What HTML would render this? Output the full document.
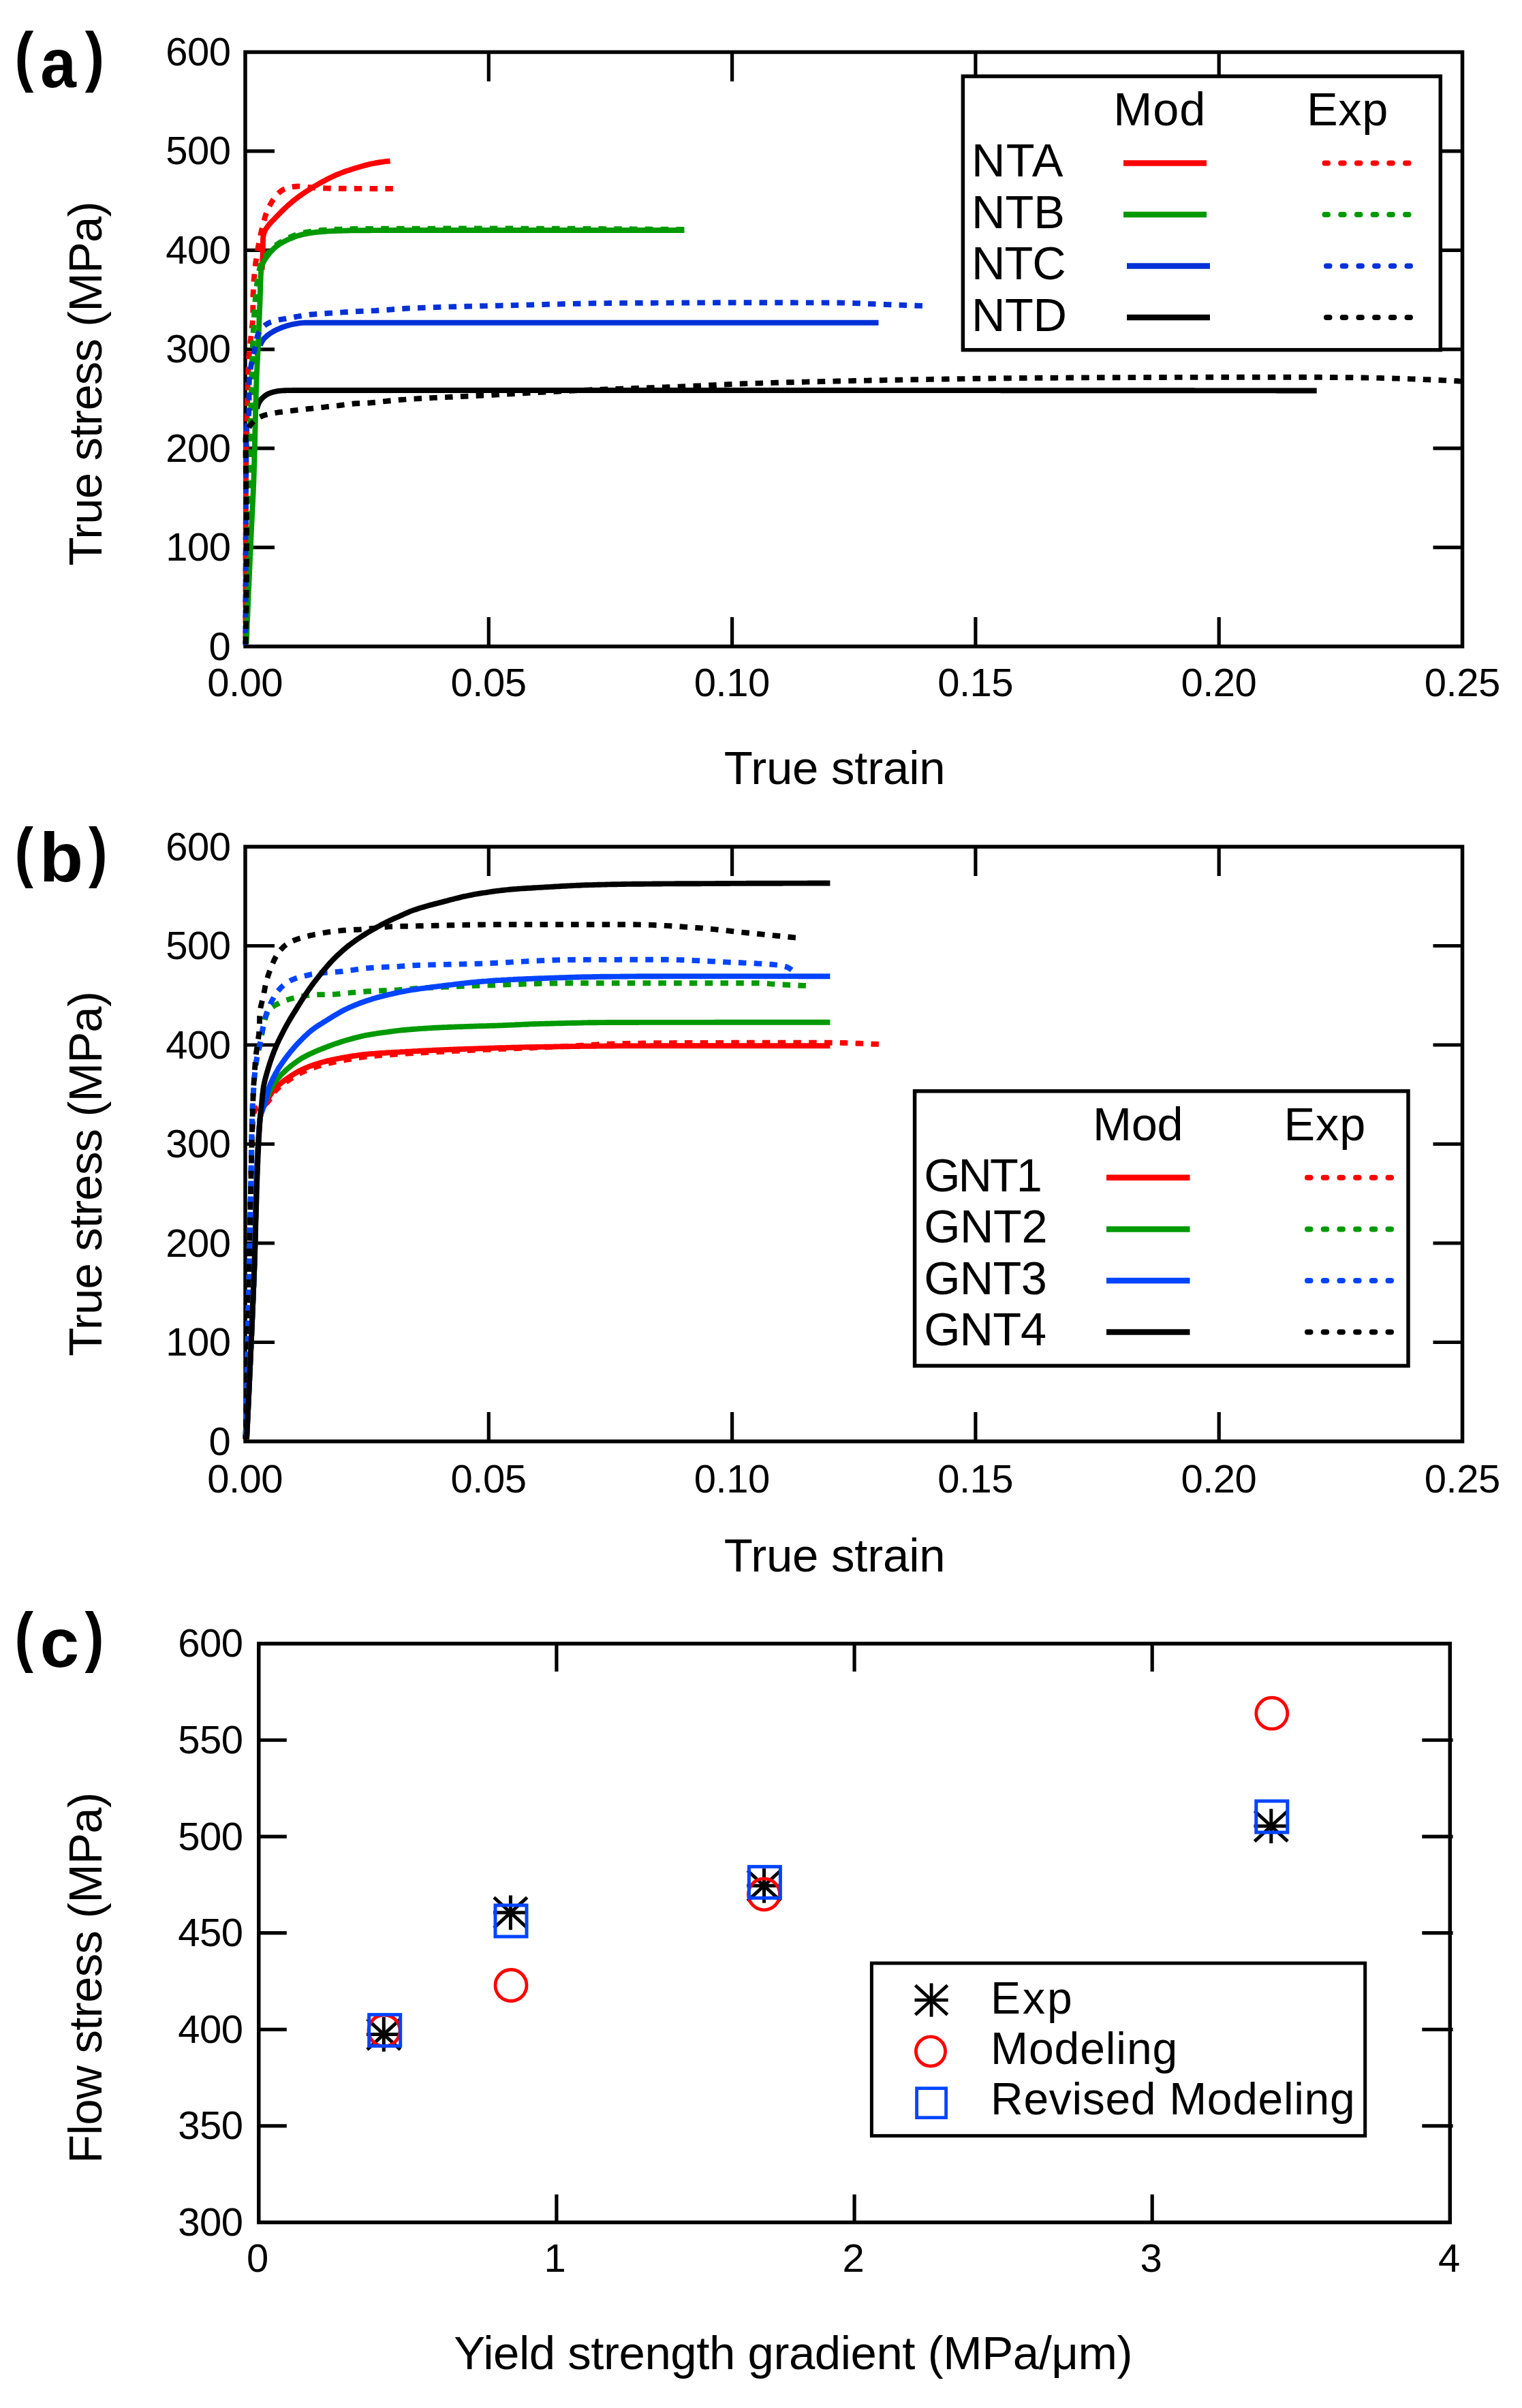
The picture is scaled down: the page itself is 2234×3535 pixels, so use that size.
<!DOCTYPE html><html><head><meta charset="utf-8"><title>Figure</title>
<style>html,body{margin:0;padding:0;background:#fff}svg{display:block}text{font-family:"Liberation Sans", Arial, Helvetica, sans-serif;fill:#000}</style></head><body>
<svg width="2234" height="3535" viewBox="0 0 2234 3535">
<rect width="2234" height="3535" fill="#fff"/>
<g id="pa">
<line x1="717.3" y1="949.0" x2="717.3" y2="906.0" stroke="#000" stroke-width="5.2" stroke-linecap="butt"/>
<line x1="717.3" y1="76.5" x2="717.3" y2="119.5" stroke="#000" stroke-width="5.2" stroke-linecap="butt"/>
<line x1="1074.6" y1="949.0" x2="1074.6" y2="906.0" stroke="#000" stroke-width="5.2" stroke-linecap="butt"/>
<line x1="1074.6" y1="76.5" x2="1074.6" y2="119.5" stroke="#000" stroke-width="5.2" stroke-linecap="butt"/>
<line x1="1431.9" y1="949.0" x2="1431.9" y2="906.0" stroke="#000" stroke-width="5.2" stroke-linecap="butt"/>
<line x1="1431.9" y1="76.5" x2="1431.9" y2="119.5" stroke="#000" stroke-width="5.2" stroke-linecap="butt"/>
<line x1="1789.2" y1="949.0" x2="1789.2" y2="906.0" stroke="#000" stroke-width="5.2" stroke-linecap="butt"/>
<line x1="1789.2" y1="76.5" x2="1789.2" y2="119.5" stroke="#000" stroke-width="5.2" stroke-linecap="butt"/>
<line x1="360.0" y1="803.6" x2="403.0" y2="803.6" stroke="#000" stroke-width="5.2" stroke-linecap="butt"/>
<line x1="2146.5" y1="803.6" x2="2103.5" y2="803.6" stroke="#000" stroke-width="5.2" stroke-linecap="butt"/>
<line x1="360.0" y1="658.2" x2="403.0" y2="658.2" stroke="#000" stroke-width="5.2" stroke-linecap="butt"/>
<line x1="2146.5" y1="658.2" x2="2103.5" y2="658.2" stroke="#000" stroke-width="5.2" stroke-linecap="butt"/>
<line x1="360.0" y1="512.8" x2="403.0" y2="512.8" stroke="#000" stroke-width="5.2" stroke-linecap="butt"/>
<line x1="2146.5" y1="512.8" x2="2103.5" y2="512.8" stroke="#000" stroke-width="5.2" stroke-linecap="butt"/>
<line x1="360.0" y1="367.3" x2="403.0" y2="367.3" stroke="#000" stroke-width="5.2" stroke-linecap="butt"/>
<line x1="2146.5" y1="367.3" x2="2103.5" y2="367.3" stroke="#000" stroke-width="5.2" stroke-linecap="butt"/>
<line x1="360.0" y1="221.9" x2="403.0" y2="221.9" stroke="#000" stroke-width="5.2" stroke-linecap="butt"/>
<line x1="2146.5" y1="221.9" x2="2103.5" y2="221.9" stroke="#000" stroke-width="5.2" stroke-linecap="butt"/>
<rect x="360.0" y="76.5" width="1786.5" height="872.5" fill="none" stroke="#000" stroke-width="5.5"/>
<text x="304.2" y="1021.5" font-size="58" letter-spacing="-0.50">0.00</text>
<text x="661.6" y="1021.5" font-size="58" letter-spacing="-0.50">0.05</text>
<text x="1018.8" y="1021.5" font-size="58" letter-spacing="-0.50">0.10</text>
<text x="1376.2" y="1021.5" font-size="58" letter-spacing="-0.50">0.15</text>
<text x="1733.4" y="1021.5" font-size="58" letter-spacing="-0.50">0.20</text>
<text x="2090.8" y="1021.5" font-size="58" letter-spacing="-0.50">0.25</text>
<text x="306.6" y="968.5" font-size="58" letter-spacing="-0.50">0</text>
<text x="243.3" y="823.1" font-size="58" letter-spacing="-0.50">100</text>
<text x="243.3" y="677.7" font-size="58" letter-spacing="-0.50">200</text>
<text x="243.3" y="532.2" font-size="58" letter-spacing="-0.50">300</text>
<text x="243.3" y="386.8" font-size="58" letter-spacing="-0.50">400</text>
<text x="243.3" y="241.4" font-size="58" letter-spacing="-0.50">500</text>
<text x="243.3" y="96.0" font-size="58" letter-spacing="-0.50">600</text>
<path d="M384.6 396.0 L384.8 393.0 L385.0 389.9 L385.1 386.9 L385.3 383.9 L385.4 380.8 L385.5 377.8 L385.6 374.7 L385.7 371.7 L385.7 368.6 L385.8 365.5 L385.8 362.4 L385.9 359.4 L385.9 356.3 L386.0 353.3 L386.1 350.3 L386.4 347.4 L386.8 344.5 L387.6 341.7 L388.7 339.0 L390.1 336.4 L391.8 333.8 L393.6 331.4 L395.5 329.1 L397.5 326.8 L399.6 324.6 L401.7 322.4 L403.8 320.2 L405.9 318.0 L408.1 315.8 L410.2 313.6 L412.3 311.5 L414.4 309.3 L416.6 307.2 L418.8 305.1 L421.0 303.1 L423.3 301.0 L425.6 299.0 L427.9 297.1 L430.2 295.1 L432.6 293.2 L435.0 291.4 L437.4 289.5 L439.8 287.8 L442.3 286.0 L444.8 284.3 L447.3 282.6 L449.8 280.9 L452.4 279.3 L455.0 277.6 L457.5 276.0 L460.1 274.4 L462.7 272.9 L465.3 271.3 L467.9 269.8 L470.6 268.3 L473.2 266.8 L475.9 265.4 L478.6 264.0 L481.3 262.6 L484.0 261.3 L486.7 259.9 L489.5 258.7 L492.3 257.4 L495.0 256.2 L497.8 255.1 L500.7 253.9 L503.5 252.9 L506.3 251.8 L509.2 250.8 L512.1 249.9 L515.0 248.9 L517.9 248.0 L520.8 247.1 L523.7 246.2 L526.6 245.4 L529.5 244.5 L532.4 243.7 L535.3 242.9 L538.3 242.1 L541.2 241.4 L544.1 240.7 L547.1 240.1 L550.1 239.5 L553.1 239.0 L556.0 238.5 L559.0 238.0 L562.0 237.6 L565.0 237.2 L568.1 236.8 L571.1 236.5 L572.6 236.3" fill="none" stroke="#ff0000" stroke-width="7.9" stroke-linejoin="round"/>
<path d="M360.5 946.0 L360.5 943.0 L360.5 940.0 L360.5 937.0 L360.5 934.0 L360.5 931.0 L360.5 928.0 L360.5 924.9 L360.5 921.9 L360.5 918.9 L360.5 915.9 L360.5 912.9 L360.5 909.9 L360.5 906.9 L360.5 903.9 L360.5 900.9 L360.5 897.9 L360.5 894.9 L360.5 891.9 L360.5 888.9 L360.5 885.8 L360.5 882.8 L360.5 879.8 L360.5 876.8 L360.5 873.8 L360.5 870.8 L360.5 867.8 L360.6 864.8 L360.6 861.8 L360.6 858.8 L360.6 855.8 L360.6 852.8 L360.6 849.8 L360.6 846.7 L360.6 843.7 L360.6 840.7 L360.6 837.7 L360.6 834.7 L360.6 831.7 L360.6 828.7 L360.6 825.7 L360.6 822.7 L360.6 819.7 L360.6 816.7 L360.6 813.7 L360.6 810.7 L360.7 807.6 L360.7 804.6 L360.7 801.6 L360.7 798.6 L360.7 795.6 L360.7 792.6 L360.7 789.6 L360.7 786.6 L360.7 783.6 L360.7 780.6 L360.7 777.6 L360.7 774.6 L360.7 771.6 L360.8 768.6 L360.8 765.5 L360.8 762.5 L360.8 759.5 L360.8 756.5 L360.8 753.5 L360.8 750.5 L360.8 747.5 L360.8 744.5 L360.8 741.5 L360.8 738.5 L360.9 735.5 L360.9 732.5 L360.9 729.5 L360.9 726.4 L360.9 723.4 L360.9 720.4 L360.9 717.4 L360.9 714.4 L361.0 711.4 L361.0 708.4 L361.0 705.4 L361.0 702.4 L361.0 699.4 L361.0 696.4 L361.1 693.4 L361.1 690.4 L361.1 687.4 L361.2 684.3 L361.2 681.3 L361.2 678.3 L361.3 675.3 L361.3 672.3 L361.4 669.3 L361.5 666.3 L361.5 663.3 L361.6 660.3 L361.6 657.3 L361.7 654.3 L361.8 651.3 L361.8 648.3 L361.9 645.3 L362.0 642.2 L362.0 639.2 L362.1 636.2 L362.1 633.2 L362.2 630.2 L362.3 627.2 L362.3 624.2 L362.4 621.2 L362.4 618.2 L362.5 615.2 L362.6 612.2 L362.6 609.2 L362.7 606.2 L362.7 603.1 L362.8 600.1 L362.9 597.1 L362.9 594.1 L363.0 591.1 L363.1 588.1 L363.1 585.1 L363.2 582.1 L363.3 579.1 L363.4 576.1 L363.5 573.1 L363.5 570.1 L363.6 567.0 L363.7 564.0 L363.8 561.0 L363.9 558.0 L364.0 555.0 L364.1 552.0 L364.2 549.0 L364.3 546.0 L364.4 543.0 L364.6 540.0 L364.7 537.0 L364.8 534.0 L365.0 531.0 L365.1 528.0 L365.3 525.0 L365.5 522.0 L365.8 519.0 L366.1 516.0 L366.4 513.0 L366.7 510.0 L367.0 507.0 L367.3 504.1 L367.6 501.1 L368.0 498.1 L368.3 495.1 L368.6 492.1 L368.9 489.1 L369.2 486.1 L369.6 483.1 L369.9 480.1 L370.3 477.1 L370.6 474.1 L370.8 471.1 L371.0 468.1 L371.2 465.1 L371.3 462.1 L371.3 459.1 L371.3 456.1 L371.3 453.1 L371.3 450.1 L371.3 447.1 L371.3 444.1 L371.3 441.1 L371.4 438.1 L371.5 435.1 L371.5 432.1 L371.7 429.1 L371.8 426.1 L371.9 423.0 L372.1 420.0 L372.2 417.0 L372.4 414.0 L372.7 411.0 L372.9 408.0 L373.2 405.0 L373.4 402.1 L373.7 399.1 L374.0 396.1 L374.4 393.1 L374.7 390.1 L375.1 387.1 L375.5 384.1 L376.0 381.2 L376.4 378.2 L376.9 375.2 L377.3 372.2 L377.8 369.3 L378.3 366.3 L378.8 363.3 L379.4 360.4 L379.9 357.4 L380.5 354.5 L381.1 351.5 L381.7 348.6 L382.3 345.6 L383.0 342.7 L383.6 339.7 L384.3 336.8 L385.0 333.9 L385.7 330.9 L386.4 328.0 L387.2 325.1 L388.0 322.2 L388.8 319.3 L389.7 316.5 L390.7 313.6 L391.8 310.8 L392.9 308.0 L394.1 305.2 L395.4 302.5 L396.9 299.8 L398.4 297.2 L399.9 294.7 L401.7 292.2 L403.5 289.7 L405.4 287.3 L407.5 284.9 L409.6 282.8 L411.9 280.9 L414.3 279.3 L416.8 277.9 L419.5 276.8 L422.3 275.9 L425.2 275.1 L428.2 274.5 L431.2 274.0 L434.2 273.7 L437.2 273.5 L440.2 273.6 L443.2 273.8 L446.2 274.0 L449.2 274.3 L452.2 274.7 L455.2 275.0 L458.2 275.3 L461.2 275.5 L464.2 275.7 L467.2 275.9 L470.2 276.1 L473.2 276.2 L476.3 276.3 L479.3 276.4 L482.3 276.5 L485.3 276.5 L488.3 276.6 L491.3 276.6 L494.3 276.6 L497.3 276.7 L500.3 276.7 L503.3 276.7 L506.3 276.7 L509.3 276.8 L512.3 276.8 L515.3 276.8 L518.3 276.8 L521.3 276.8 L524.4 276.9 L527.4 276.9 L530.4 276.9 L533.4 276.9 L536.4 276.9 L539.4 276.9 L542.4 276.9 L545.4 277.0 L548.4 277.0 L551.4 277.0 L554.4 277.0 L557.4 277.0 L560.4 277.0 L563.5 277.0 L566.5 277.0 L569.5 277.0 L572.5 277.0 L575.5 277.0 L577.0 277.0" fill="none" stroke="#ff0000" stroke-width="7.9" stroke-linejoin="round" stroke-dasharray="11.5 11.3" stroke-dashoffset="14.4"/>
<path d="M377.0 600.0 L377.8 597.1 L378.8 594.3 L379.9 591.5 L381.4 588.9 L383.1 586.5 L385.1 584.3 L387.3 582.3 L389.7 580.5 L392.2 578.9 L394.9 577.6 L397.7 576.5 L400.5 575.7 L403.4 575.0 L406.4 574.4 L409.3 573.9 L412.4 573.6 L415.4 573.4 L418.4 573.2 L421.4 573.1 L424.4 573.1 L427.4 573.1 L430.4 573.0 L433.4 573.0 L436.4 573.0 L439.4 573.0 L442.4 573.0 L445.4 573.0 L448.4 573.0 L451.4 573.0 L454.4 573.0 L457.4 573.0 L460.4 573.0 L463.4 573.0 L466.4 573.0 L469.5 573.0 L472.5 573.0 L475.5 573.0 L478.5 573.0 L481.5 573.0 L484.5 573.0 L487.5 573.0 L490.5 573.0 L493.5 573.0 L496.5 573.0 L499.5 573.0 L502.5 573.0 L505.5 573.0 L508.5 573.0 L511.5 573.0 L514.5 573.0 L517.5 573.0 L520.5 573.0 L523.5 573.0 L526.5 573.0 L529.5 573.0 L532.5 573.0 L535.6 573.0 L538.6 573.0 L541.6 573.0 L544.6 573.0 L547.6 573.0 L550.6 573.0 L553.6 573.0 L556.6 573.0 L559.6 573.0 L562.6 573.0 L565.6 573.0 L568.6 573.0 L571.6 573.0 L574.6 573.0 L577.6 573.0 L580.6 573.0 L583.6 573.0 L586.6 573.0 L589.6 573.0 L592.6 573.0 L595.6 573.0 L598.7 573.0 L601.7 573.0 L604.7 573.0 L607.7 573.0 L610.7 573.0 L613.7 573.0 L616.7 573.0 L619.7 573.0 L622.7 573.0 L625.7 573.0 L628.7 573.0 L631.7 573.0 L634.7 573.0 L637.7 573.0 L640.7 573.0 L643.7 573.0 L646.7 573.0 L649.7 573.0 L652.7 573.0 L655.7 573.0 L658.7 573.0 L661.7 573.0 L664.8 573.0 L667.8 573.0 L670.8 573.0 L673.8 573.0 L676.8 573.0 L679.8 573.0 L682.8 573.0 L685.8 573.0 L688.8 573.0 L691.8 573.0 L694.8 573.0 L697.8 573.0 L700.8 573.0 L703.8 573.0 L706.8 573.0 L709.8 573.0 L712.8 573.0 L715.8 573.0 L718.8 573.0 L721.8 573.0 L724.8 573.0 L727.8 573.0 L730.9 573.0 L733.9 573.0 L736.9 573.0 L739.9 573.0 L742.9 573.0 L745.9 573.0 L748.9 573.0 L751.9 573.0 L754.9 573.0 L757.9 573.0 L760.9 573.0 L763.9 573.0 L766.9 573.0 L769.9 573.0 L772.9 573.0 L775.9 573.0 L778.9 573.0 L781.9 573.0 L784.9 573.0 L787.9 573.0 L790.9 573.0 L794.0 573.0 L797.0 573.0 L800.0 573.0 L803.0 573.0 L806.0 573.0 L809.0 573.0 L812.0 573.0 L815.0 573.0 L818.0 573.0 L821.0 573.0 L824.0 573.0 L827.0 573.0 L830.0 573.0 L833.0 573.0 L836.0 573.0 L839.0 573.0 L842.0 573.0 L845.0 573.0 L848.0 573.0 L851.0 573.0 L854.0 573.0 L857.0 573.0 L860.1 573.0 L863.1 573.0 L866.1 573.0 L869.1 573.0 L872.1 573.0 L875.1 573.0 L878.1 573.0 L881.1 573.0 L884.1 573.0 L887.1 573.0 L890.1 573.0 L893.1 573.0 L896.1 573.0 L899.1 573.0 L902.1 573.0 L905.1 573.0 L908.1 573.0 L911.1 573.0 L914.1 573.0 L917.1 573.0 L920.1 573.0 L923.2 573.0 L926.2 573.0 L929.2 573.0 L932.2 573.0 L935.2 573.0 L938.2 573.0 L941.2 573.0 L944.2 573.0 L947.2 573.0 L950.2 573.0 L953.2 573.0 L956.2 573.0 L959.2 573.0 L962.2 573.0 L965.2 573.0 L968.2 573.0 L971.2 573.0 L974.2 573.0 L977.2 573.0 L980.2 573.0 L983.2 573.0 L986.2 573.0 L989.3 573.0 L992.3 573.0 L995.3 573.0 L998.3 573.0 L1001.3 573.0 L1004.3 573.0 L1007.3 573.0 L1010.3 573.0 L1013.3 573.0 L1016.3 573.0 L1019.3 573.0 L1022.3 573.0 L1025.3 573.0 L1028.3 573.0 L1031.3 573.0 L1034.3 573.0 L1037.3 573.0 L1040.3 573.0 L1043.3 573.0 L1046.3 573.0 L1049.3 573.0 L1052.3 573.0 L1055.4 573.0 L1058.4 573.0 L1061.4 573.0 L1064.4 573.0 L1067.4 573.0 L1070.4 573.0 L1073.4 573.0 L1076.4 573.0 L1079.4 573.0 L1082.4 573.0 L1085.4 573.0 L1088.4 573.0 L1091.4 573.0 L1094.4 573.0 L1097.4 573.0 L1100.4 573.0 L1103.4 573.0 L1106.4 573.0 L1109.4 573.0 L1112.4 573.0 L1115.4 573.0 L1118.5 573.0 L1121.5 573.0 L1124.5 573.0 L1127.5 573.0 L1130.5 573.0 L1133.5 573.0 L1136.5 573.0 L1139.5 573.0 L1142.5 573.0 L1145.5 573.0 L1148.5 573.0 L1151.5 573.0 L1154.5 573.0 L1157.5 573.0 L1160.5 573.0 L1163.5 573.0 L1166.5 573.0 L1169.5 573.0 L1172.5 573.0 L1175.5 573.0 L1178.5 573.0 L1181.5 573.0 L1184.6 573.0 L1187.6 573.0 L1190.6 573.0 L1193.6 573.0 L1196.6 573.0 L1199.6 573.0 L1202.6 573.0 L1205.6 573.0 L1208.6 573.0 L1211.6 573.0 L1214.6 573.0 L1217.6 573.0 L1220.6 573.0 L1223.6 573.0 L1226.6 573.0 L1229.6 573.0 L1232.6 573.0 L1235.6 573.0 L1238.6 573.0 L1241.6 573.0 L1244.6 573.0 L1247.6 573.0 L1250.7 573.0 L1253.7 573.0 L1256.7 573.0 L1259.7 573.0 L1262.7 573.1 L1265.7 573.1 L1268.7 573.1 L1271.7 573.1 L1274.7 573.1 L1277.7 573.1 L1280.7 573.1 L1283.7 573.1 L1286.7 573.1 L1289.7 573.1 L1292.7 573.1 L1295.7 573.1 L1298.7 573.1 L1301.7 573.1 L1304.7 573.1 L1307.7 573.1 L1310.7 573.1 L1313.8 573.1 L1316.8 573.1 L1319.8 573.1 L1322.8 573.1 L1325.8 573.1 L1328.8 573.1 L1331.8 573.1 L1334.8 573.1 L1337.8 573.1 L1340.8 573.1 L1343.8 573.1 L1346.8 573.1 L1349.8 573.1 L1352.8 573.1 L1355.8 573.1 L1358.8 573.1 L1361.8 573.1 L1364.8 573.1 L1367.8 573.1 L1370.8 573.1 L1373.8 573.1 L1376.8 573.1 L1379.9 573.1 L1382.9 573.1 L1385.9 573.1 L1388.9 573.1 L1391.9 573.1 L1394.9 573.1 L1397.9 573.1 L1400.9 573.1 L1403.9 573.1 L1406.9 573.1 L1409.9 573.1 L1412.9 573.1 L1415.9 573.1 L1418.9 573.1 L1421.9 573.1 L1424.9 573.1 L1427.9 573.1 L1430.9 573.1 L1433.9 573.1 L1436.9 573.1 L1439.9 573.1 L1442.9 573.1 L1446.0 573.1 L1449.0 573.1 L1452.0 573.1 L1455.0 573.1 L1458.0 573.1 L1461.0 573.1 L1464.0 573.1 L1467.0 573.1 L1470.0 573.2 L1473.0 573.2 L1476.0 573.2 L1479.0 573.2 L1482.0 573.2 L1485.0 573.2 L1488.0 573.2 L1491.0 573.2 L1494.0 573.2 L1497.0 573.2 L1500.0 573.2 L1503.0 573.2 L1506.0 573.2 L1509.0 573.2 L1512.1 573.2 L1515.1 573.2 L1518.1 573.2 L1521.1 573.2 L1524.1 573.2 L1527.1 573.2 L1530.1 573.2 L1533.1 573.2 L1536.1 573.2 L1539.1 573.2 L1542.1 573.2 L1545.1 573.2 L1548.1 573.2 L1551.1 573.2 L1554.1 573.2 L1557.1 573.2 L1560.1 573.2 L1563.1 573.2 L1566.1 573.2 L1569.1 573.2 L1572.1 573.2 L1575.2 573.2 L1578.2 573.2 L1581.2 573.2 L1584.2 573.2 L1587.2 573.2 L1590.2 573.2 L1593.2 573.2 L1596.2 573.2 L1599.2 573.2 L1602.2 573.2 L1605.2 573.2 L1608.2 573.2 L1611.2 573.2 L1614.2 573.2 L1617.2 573.2 L1620.2 573.2 L1623.2 573.3 L1626.2 573.3 L1629.2 573.3 L1632.2 573.3 L1635.2 573.3 L1638.2 573.3 L1641.3 573.3 L1644.3 573.3 L1647.3 573.3 L1650.3 573.3 L1653.3 573.3 L1656.3 573.3 L1659.3 573.3 L1662.3 573.3 L1665.3 573.3 L1668.3 573.3 L1671.3 573.3 L1674.3 573.3 L1677.3 573.3 L1680.3 573.3 L1683.3 573.3 L1686.3 573.3 L1689.3 573.3 L1692.3 573.3 L1695.3 573.3 L1698.3 573.3 L1701.3 573.3 L1704.3 573.3 L1707.4 573.3 L1710.4 573.3 L1713.4 573.3 L1716.4 573.3 L1719.4 573.3 L1722.4 573.3 L1725.4 573.3 L1728.4 573.3 L1731.4 573.3 L1734.4 573.3 L1737.4 573.3 L1740.4 573.3 L1743.4 573.3 L1746.4 573.3 L1749.4 573.3 L1752.4 573.3 L1755.4 573.4 L1758.4 573.4 L1761.4 573.4 L1764.4 573.4 L1767.4 573.4 L1770.5 573.4 L1773.5 573.4 L1776.5 573.4 L1779.5 573.4 L1782.5 573.4 L1785.5 573.4 L1788.5 573.4 L1791.5 573.4 L1794.5 573.4 L1797.5 573.4 L1800.5 573.4 L1803.5 573.4 L1806.5 573.4 L1809.5 573.4 L1812.5 573.4 L1815.5 573.4 L1818.5 573.4 L1821.5 573.4 L1824.5 573.4 L1827.5 573.4 L1830.5 573.4 L1833.5 573.4 L1836.6 573.4 L1839.6 573.4 L1842.6 573.4 L1845.6 573.4 L1848.6 573.4 L1851.6 573.4 L1854.6 573.4 L1857.6 573.4 L1860.6 573.4 L1863.6 573.4 L1866.6 573.4 L1869.6 573.4 L1872.6 573.4 L1875.6 573.5 L1878.6 573.5 L1881.6 573.5 L1884.6 573.5 L1887.6 573.5 L1890.6 573.5 L1893.6 573.5 L1896.6 573.5 L1899.6 573.5 L1902.7 573.5 L1905.7 573.5 L1908.7 573.5 L1911.7 573.5 L1914.7 573.5 L1917.7 573.5 L1920.7 573.5 L1923.7 573.5 L1926.7 573.5 L1929.7 573.5 L1932.7 573.5" fill="none" stroke="#000000" stroke-width="7.9" stroke-linejoin="round"/>
<path d="M382.0 507.0 L383.1 504.3 L384.4 501.6 L386.0 499.1 L387.8 496.8 L389.9 494.7 L392.2 492.7 L394.7 490.8 L397.1 489.1 L399.7 487.5 L402.3 486.0 L405.0 484.6 L407.7 483.3 L410.5 482.1 L413.3 481.0 L416.1 479.9 L419.0 479.0 L421.8 478.1 L424.7 477.3 L427.7 476.5 L430.6 475.9 L433.6 475.3 L436.5 474.8 L439.5 474.4 L442.5 474.1 L445.5 473.9 L448.5 473.8 L451.5 473.8 L454.5 473.8 L457.5 473.8 L460.5 473.8 L463.5 473.8 L466.5 473.8 L469.5 473.8 L472.6 473.8 L475.6 473.8 L478.6 473.8 L481.6 473.8 L484.6 473.8 L487.6 473.8 L490.6 473.8 L493.6 473.8 L496.6 473.8 L499.6 473.8 L502.7 473.8 L505.7 473.8 L508.7 473.8 L511.7 473.8 L514.7 473.8 L517.7 473.8 L520.7 473.8 L523.7 473.8 L526.7 473.8 L529.7 473.8 L532.7 473.8 L535.8 473.8 L538.8 473.8 L541.8 473.8 L544.8 473.8 L547.8 473.8 L550.8 473.8 L553.8 473.8 L556.8 473.8 L559.8 473.8 L562.8 473.8 L565.8 473.8 L568.9 473.8 L571.9 473.8 L574.9 473.8 L577.9 473.8 L580.9 473.8 L583.9 473.8 L586.9 473.8 L589.9 473.8 L592.9 473.8 L595.9 473.8 L598.9 473.8 L601.9 473.8 L605.0 473.8 L608.0 473.8 L611.0 473.8 L614.0 473.8 L617.0 473.8 L620.0 473.8 L623.0 473.8 L626.0 473.8 L629.0 473.8 L632.0 473.8 L635.0 473.8 L638.1 473.8 L641.1 473.8 L644.1 473.8 L647.1 473.8 L650.1 473.8 L653.1 473.8 L656.1 473.8 L659.1 473.8 L662.1 473.8 L665.1 473.8 L668.1 473.8 L671.2 473.8 L674.2 473.8 L677.2 473.8 L680.2 473.8 L683.2 473.8 L686.2 473.8 L689.2 473.8 L692.2 473.8 L695.2 473.8 L698.2 473.8 L701.2 473.8 L704.3 473.8 L707.3 473.8 L710.3 473.8 L713.3 473.8 L716.3 473.8 L719.3 473.8 L722.3 473.8 L725.3 473.8 L728.3 473.8 L731.3 473.8 L734.3 473.8 L737.4 473.8 L740.4 473.8 L743.4 473.8 L746.4 473.8 L749.4 473.8 L752.4 473.8 L755.4 473.8 L758.4 473.8 L761.4 473.8 L764.4 473.8 L767.4 473.8 L770.5 473.8 L773.5 473.8 L776.5 473.8 L779.5 473.8 L782.5 473.8 L785.5 473.8 L788.5 473.8 L791.5 473.8 L794.5 473.8 L797.5 473.8 L800.5 473.8 L803.6 473.8 L806.6 473.8 L809.6 473.8 L812.6 473.8 L815.6 473.8 L818.6 473.8 L821.6 473.8 L824.6 473.8 L827.6 473.8 L830.6 473.8 L833.6 473.8 L836.6 473.8 L839.7 473.8 L842.7 473.8 L845.7 473.8 L848.7 473.8 L851.7 473.8 L854.7 473.8 L857.7 473.8 L860.7 473.8 L863.7 473.8 L866.7 473.8 L869.7 473.8 L872.8 473.8 L875.8 473.8 L878.8 473.8 L881.8 473.8 L884.8 473.8 L887.8 473.8 L890.8 473.8 L893.8 473.8 L896.8 473.8 L899.8 473.8 L902.8 473.8 L905.9 473.8 L908.9 473.8 L911.9 473.8 L914.9 473.8 L917.9 473.8 L920.9 473.8 L923.9 473.8 L926.9 473.8 L929.9 473.8 L932.9 473.8 L935.9 473.8 L939.0 473.8 L942.0 473.8 L945.0 473.8 L948.0 473.8 L951.0 473.8 L954.0 473.8 L957.0 473.8 L960.0 473.8 L963.0 473.8 L966.0 473.8 L969.0 473.8 L972.1 473.8 L975.1 473.8 L978.1 473.8 L981.1 473.8 L984.1 473.8 L987.1 473.8 L990.1 473.8 L993.1 473.8 L996.1 473.8 L999.1 473.8 L1002.1 473.8 L1005.2 473.8 L1008.2 473.8 L1011.2 473.8 L1014.2 473.8 L1017.2 473.8 L1020.2 473.8 L1023.2 473.8 L1026.2 473.8 L1029.2 473.8 L1032.2 473.8 L1035.2 473.8 L1038.3 473.8 L1041.3 473.8 L1044.3 473.8 L1047.3 473.8 L1050.3 473.8 L1053.3 473.8 L1056.3 473.8 L1059.3 473.8 L1062.3 473.8 L1065.3 473.8 L1068.3 473.8 L1071.3 473.8 L1074.4 473.8 L1077.4 473.8 L1080.4 473.8 L1083.4 473.8 L1086.4 473.8 L1089.4 473.8 L1092.4 473.8 L1095.4 473.8 L1098.4 473.8 L1101.4 473.8 L1104.4 473.8 L1107.5 473.8 L1110.5 473.8 L1113.5 473.8 L1116.5 473.8 L1119.5 473.8 L1122.5 473.8 L1125.5 473.8 L1128.5 473.8 L1131.5 473.8 L1134.5 473.8 L1137.5 473.8 L1140.6 473.8 L1143.6 473.8 L1146.6 473.8 L1149.6 473.8 L1152.6 473.8 L1155.6 473.8 L1158.6 473.8 L1161.6 473.8 L1164.6 473.8 L1167.6 473.8 L1170.6 473.8 L1173.7 473.8 L1176.7 473.8 L1179.7 473.8 L1182.7 473.8 L1185.7 473.8 L1188.7 473.8 L1191.7 473.8 L1194.7 473.8 L1197.7 473.8 L1200.7 473.8 L1203.7 473.8 L1206.8 473.8 L1209.8 473.8 L1212.8 473.8 L1215.8 473.8 L1218.8 473.8 L1221.8 473.8 L1224.8 473.8 L1227.8 473.8 L1230.8 473.8 L1233.8 473.8 L1236.8 473.8 L1239.9 473.8 L1242.9 473.8 L1245.9 473.8 L1248.9 473.8 L1251.9 473.8 L1254.9 473.8 L1257.9 473.8 L1260.9 473.8 L1263.9 473.8 L1266.9 473.8 L1269.9 473.8 L1273.0 473.8 L1276.0 473.8 L1279.0 473.8 L1282.0 473.8 L1285.0 473.8 L1288.0 473.8 L1289.5 473.8" fill="none" stroke="#0030d8" stroke-width="7.9" stroke-linejoin="round"/>
<path d="M360.5 947.0 L360.6 944.0 L360.6 941.0 L360.7 938.0 L360.7 935.0 L360.8 932.0 L360.9 929.0 L360.9 926.0 L361.0 923.0 L361.0 919.9 L361.1 916.9 L361.2 913.9 L361.2 910.9 L361.3 907.9 L361.3 904.9 L361.4 901.9 L361.5 898.9 L361.5 895.9 L361.6 892.9 L361.7 889.9 L361.7 886.9 L361.8 883.9 L361.8 880.9 L361.9 877.9 L362.0 874.9 L362.0 871.9 L362.1 868.8 L362.2 865.8 L362.2 862.8 L362.3 859.8 L362.4 856.8 L362.4 853.8 L362.5 850.8 L362.6 847.8 L362.6 844.8 L362.7 841.8 L362.8 838.8 L362.8 835.8 L362.9 832.8 L362.9 829.8 L363.0 826.8 L363.1 823.8 L363.2 820.8 L363.2 817.8 L363.3 814.7 L363.4 811.7 L363.4 808.7 L363.5 805.7 L363.6 802.7 L363.6 799.7 L363.7 796.7 L363.8 793.7 L363.8 790.7 L363.9 787.7 L364.0 784.7 L364.0 781.7 L364.1 778.7 L364.2 775.7 L364.3 772.7 L364.3 769.7 L364.4 766.7 L364.5 763.6 L364.5 760.6 L364.6 757.6 L364.7 754.6 L364.7 751.6 L364.8 748.6 L364.9 745.6 L365.0 742.6 L365.0 739.6 L365.1 736.6 L365.2 733.6 L365.3 730.6 L365.3 727.6 L365.4 724.6 L365.5 721.6 L365.5 718.6 L365.6 715.6 L365.7 712.6 L365.8 709.5 L365.8 706.5 L365.9 703.5 L366.0 700.5 L366.1 697.5 L366.1 694.5 L366.2 691.5 L366.3 688.5 L366.3 685.5 L366.4 682.5 L366.5 679.5 L366.6 676.5 L366.6 673.5 L366.7 670.5 L366.8 667.5 L366.8 664.5 L366.9 661.5 L367.0 658.4 L367.0 655.4 L367.1 652.4 L367.1 649.4 L367.2 646.4 L367.3 643.4 L367.3 640.4 L367.4 637.4 L367.5 634.4 L367.5 631.4 L367.6 628.4 L367.7 625.4 L367.7 622.4 L367.8 619.4 L367.9 616.3 L367.9 613.3 L368.0 610.3 L368.1 607.3 L368.1 604.3 L368.2 601.3 L368.3 598.3 L368.3 595.3 L368.4 592.3 L368.5 589.3 L368.6 586.3 L368.6 583.3 L368.7 580.3 L368.8 577.3 L368.9 574.3 L368.9 571.2 L369.0 568.2 L369.1 565.2 L369.2 562.2 L369.3 559.2 L369.3 556.2 L369.4 553.2 L369.5 550.2 L369.6 547.2 L369.7 544.2 L369.8 541.2 L369.9 538.2 L370.0 535.2 L370.1 532.2 L370.2 529.2 L370.3 526.2 L370.4 523.2 L370.5 520.2 L370.6 517.2 L370.7 514.2 L370.8 511.2 L370.9 508.2 L371.0 505.2 L371.2 502.2 L371.3 499.1 L371.4 496.1 L371.5 493.1 L371.6 490.1 L371.8 487.1 L371.9 484.1 L372.0 481.1 L372.2 478.1 L372.3 475.1 L372.5 472.1 L372.7 469.1 L372.8 466.1 L373.0 463.1 L373.2 460.1 L373.4 457.1 L373.6 454.1 L373.8 451.1 L374.1 448.1 L374.3 445.1 L374.5 442.1 L374.8 439.0 L375.1 436.1 L375.4 433.1 L375.7 430.1 L376.0 427.1 L376.3 424.1 L376.6 421.1 L377.0 418.1 L377.4 415.2 L377.7 412.2 L378.2 409.2 L378.6 406.3 L379.2 403.3 L379.8 400.3 L380.4 397.3 L381.1 394.4 L382.0 391.5 L382.9 388.7 L384.0 385.9 L385.2 383.3 L386.6 380.7 L388.3 378.1 L390.0 375.7 L391.9 373.3 L393.8 370.9 L395.7 368.6 L397.7 366.4 L399.9 364.3 L402.1 362.3 L404.4 360.4 L406.8 358.6 L409.3 356.9 L411.9 355.3 L414.4 353.8 L417.1 352.3 L419.7 350.9 L422.4 349.6 L425.2 348.4 L427.9 347.2 L430.7 346.1 L433.6 345.1 L436.4 344.1 L439.3 343.3 L442.2 342.5 L445.1 341.8 L448.1 341.2 L451.0 340.6 L454.0 340.1 L456.9 339.7 L459.9 339.3 L462.9 338.9 L465.9 338.6 L468.9 338.3 L471.9 338.0 L474.9 337.8 L477.9 337.6 L480.9 337.4 L483.9 337.2 L486.9 337.0 L489.9 336.9 L492.9 336.8 L495.9 336.7 L498.9 336.6 L501.9 336.5 L504.9 336.4 L507.9 336.3 L510.9 336.2 L514.0 336.1 L517.0 336.1 L520.0 336.0 L523.0 336.0 L526.0 336.0 L529.0 336.0 L532.0 335.9 L535.0 335.9 L538.0 335.9 L541.0 335.9 L544.0 335.9 L547.0 335.9 L550.0 335.8 L553.0 335.8 L556.0 335.8 L559.0 335.8 L562.1 335.8 L565.1 335.8 L568.1 335.8 L571.1 335.8 L574.1 335.7 L577.1 335.7 L580.1 335.7 L583.1 335.7 L586.1 335.7 L589.1 335.7 L592.1 335.7 L595.1 335.7 L598.1 335.7 L601.1 335.6 L604.1 335.6 L607.1 335.6 L610.2 335.6 L613.2 335.6 L616.2 335.6 L619.2 335.6 L622.2 335.6 L625.2 335.6 L628.2 335.6 L631.2 335.6 L634.2 335.6 L637.2 335.6 L640.2 335.5 L643.2 335.5 L646.2 335.5 L649.2 335.5 L652.2 335.5 L655.3 335.5 L658.3 335.5 L661.3 335.5 L664.3 335.5 L667.3 335.5 L670.3 335.5 L673.3 335.5 L676.3 335.5 L679.3 335.5 L682.3 335.5 L685.3 335.5 L688.3 335.5 L691.3 335.5 L694.3 335.5 L697.3 335.5 L700.4 335.5 L703.4 335.5 L706.4 335.5 L709.4 335.5 L712.4 335.5 L715.4 335.5 L718.4 335.5 L721.4 335.5 L724.4 335.5 L727.4 335.5 L730.4 335.5 L733.4 335.5 L736.4 335.5 L739.4 335.5 L742.4 335.5 L745.4 335.5 L748.5 335.5 L751.5 335.5 L754.5 335.5 L757.5 335.6 L760.5 335.6 L763.5 335.6 L766.5 335.6 L769.5 335.6 L772.5 335.6 L775.5 335.6 L778.5 335.6 L781.5 335.6 L784.5 335.6 L787.5 335.6 L790.5 335.6 L793.6 335.6 L796.6 335.7 L799.6 335.7 L802.6 335.7 L805.6 335.7 L808.6 335.7 L811.6 335.7 L814.6 335.7 L817.6 335.7 L820.6 335.7 L823.6 335.7 L826.6 335.8 L829.6 335.8 L832.6 335.8 L835.6 335.8 L838.6 335.8 L841.7 335.8 L844.7 335.8 L847.7 335.9 L850.7 335.9 L853.7 335.9 L856.7 335.9 L859.7 335.9 L862.7 335.9 L865.7 335.9 L868.7 336.0 L871.7 336.0 L874.7 336.0 L877.7 336.0 L880.7 336.0 L883.7 336.0 L886.8 336.1 L889.8 336.1 L892.8 336.1 L895.8 336.1 L898.8 336.1 L901.8 336.2 L904.8 336.2 L907.8 336.2 L910.8 336.2 L913.8 336.2 L916.8 336.3 L919.8 336.3 L922.8 336.3 L925.8 336.3 L928.8 336.4 L931.8 336.4 L934.9 336.4 L937.9 336.4 L940.9 336.4 L943.9 336.5 L946.9 336.5 L949.9 336.5 L952.9 336.5 L955.9 336.6 L958.9 336.6 L961.9 336.6 L964.9 336.6 L967.9 336.7 L970.9 336.7 L973.9 336.7 L976.9 336.7 L979.9 336.8 L983.0 336.8 L986.0 336.8 L989.0 336.9 L992.0 336.9 L995.0 336.9 L998.0 336.9 L1001.0 337.0 L1004.0 337.0" fill="none" stroke="#009900" stroke-width="7.9" stroke-linejoin="round" stroke-dasharray="11.5 11.3" stroke-dashoffset="20.3"/>
<path d="M361.6 945.0 L361.7 942.0 L361.8 939.0 L362.0 936.0 L362.1 933.0 L362.2 930.0 L362.3 927.0 L362.5 924.0 L362.6 921.0 L362.7 918.0 L362.8 915.0 L363.0 912.0 L363.1 909.0 L363.2 906.0 L363.4 903.0 L363.5 900.0 L363.6 897.0 L363.7 894.0 L363.9 890.9 L364.0 887.9 L364.1 884.9 L364.3 881.9 L364.4 878.9 L364.5 875.9 L364.6 872.9 L364.8 869.9 L364.9 866.9 L365.0 863.9 L365.2 860.9 L365.3 857.9 L365.4 854.9 L365.6 851.9 L365.7 848.9 L365.8 845.9 L366.0 842.9 L366.1 839.9 L366.2 836.9 L366.4 833.9 L366.5 830.9 L366.6 827.9 L366.8 824.9 L366.9 821.9 L367.0 818.9 L367.2 815.9 L367.3 812.9 L367.5 809.9 L367.6 806.9 L367.7 803.9 L367.9 800.9 L368.0 797.9 L368.1 794.9 L368.3 791.9 L368.4 788.9 L368.6 785.9 L368.7 782.9 L368.8 779.9 L369.0 776.9 L369.1 773.8 L369.3 770.8 L369.4 767.8 L369.6 764.8 L369.7 761.8 L369.9 758.8 L370.0 755.8 L370.2 752.8 L370.3 749.8 L370.5 746.8 L370.6 743.8 L370.8 740.8 L370.9 737.8 L371.1 734.8 L371.2 731.8 L371.4 728.8 L371.5 725.8 L371.7 722.8 L371.8 719.8 L371.9 716.8 L372.0 713.8 L372.2 710.8 L372.3 707.8 L372.4 704.8 L372.5 701.8 L372.6 698.8 L372.7 695.8 L372.8 692.8 L372.9 689.8 L373.0 686.8 L373.1 683.8 L373.2 680.8 L373.3 677.8 L373.3 674.8 L373.4 671.8 L373.5 668.8 L373.6 665.7 L373.7 662.7 L373.7 659.7 L373.8 656.7 L373.9 653.7 L374.0 650.7 L374.0 647.7 L374.1 644.7 L374.2 641.7 L374.3 638.7 L374.3 635.7 L374.4 632.7 L374.5 629.7 L374.6 626.7 L374.6 623.7 L374.7 620.7 L374.8 617.7 L374.9 614.7 L374.9 611.7 L375.0 608.7 L375.1 605.6 L375.2 602.6 L375.2 599.6 L375.3 596.6 L375.4 593.6 L375.5 590.6 L375.6 587.6 L375.7 584.6 L375.7 581.6 L375.8 578.6 L375.9 575.6 L376.0 572.6 L376.1 569.6 L376.2 566.6 L376.3 563.6 L376.4 560.6 L376.5 557.6 L376.6 554.6 L376.7 551.6 L376.9 548.6 L377.0 545.6 L377.1 542.6 L377.3 539.6 L377.4 536.6 L377.6 533.6 L377.7 530.6 L377.9 527.6 L378.1 524.6 L378.2 521.6 L378.4 518.6 L378.5 515.6 L378.7 512.6 L378.8 509.6 L379.0 506.5 L379.1 503.5 L379.2 500.5 L379.4 497.5 L379.5 494.5 L379.6 491.5 L379.7 488.5 L379.8 485.5 L380.0 482.5 L380.1 479.5 L380.2 476.5 L380.3 473.5 L380.4 470.5 L380.5 467.5 L380.6 464.5 L380.8 461.5 L380.9 458.5 L381.0 455.5 L381.1 452.5 L381.2 449.5 L381.4 446.5 L381.5 443.5 L381.6 440.4 L381.7 437.4 L381.8 434.4 L381.9 431.3 L382.0 428.2 L382.1 425.2 L382.1 422.1 L382.2 419.0 L382.3 416.0 L382.4 412.9 L382.6 409.9 L382.7 406.9 L382.8 403.9 L383.0 400.9 L383.2 398.0 L383.5 395.2 L383.9 392.3 L384.6 389.6 L385.6 386.9 L386.9 384.2 L388.4 381.6 L390.1 379.1 L391.8 376.6 L393.6 374.2 L395.5 371.8 L397.4 369.5 L399.5 367.3 L401.6 365.2 L403.8 363.2 L406.2 361.4 L408.6 359.6 L411.1 358.0 L413.7 356.4 L416.3 354.9 L419.0 353.5 L421.7 352.2 L424.4 351.0 L427.2 349.8 L430.0 348.7 L432.8 347.6 L435.7 346.6 L438.5 345.7 L441.4 344.9 L444.3 344.2 L447.2 343.5 L450.2 343.0 L453.1 342.4 L456.1 341.9 L459.1 341.5 L462.1 341.1 L465.1 340.8 L468.1 340.5 L471.1 340.2 L474.0 340.0 L477.0 339.8 L480.0 339.6 L483.0 339.4 L486.1 339.3 L489.1 339.1 L492.1 339.0 L495.1 338.9 L498.1 338.8 L501.1 338.7 L504.1 338.6 L507.1 338.6 L510.1 338.5 L513.1 338.4 L516.1 338.4 L519.1 338.4 L522.1 338.3 L525.1 338.3 L528.1 338.3 L531.1 338.2 L534.1 338.2 L537.1 338.2 L540.1 338.2 L543.1 338.2 L546.2 338.1 L549.2 338.1 L552.2 338.1 L555.2 338.1 L558.2 338.1 L561.2 338.1 L564.2 338.1 L567.2 338.0 L570.2 338.0 L573.2 338.0 L576.2 338.0 L579.2 338.0 L582.2 338.0 L585.2 338.0 L588.2 338.0 L591.2 338.0 L594.2 338.0 L597.2 338.0 L600.3 338.0 L603.3 338.0 L606.3 338.0 L609.3 338.0 L612.3 338.0 L615.3 338.0 L618.3 338.0 L621.3 338.0 L624.3 338.0 L627.3 338.0 L630.3 338.0 L633.3 338.0 L636.3 338.0 L639.3 338.0 L642.3 338.0 L645.3 338.0 L648.3 338.0 L651.3 338.0 L654.4 338.0 L657.4 338.0 L660.4 338.0 L663.4 338.0 L666.4 338.0 L669.4 338.0 L672.4 338.0 L675.4 338.0 L678.4 338.0 L681.4 338.0 L684.4 338.0 L687.4 338.0 L690.4 338.0 L693.4 338.0 L696.4 338.0 L699.4 338.0 L702.4 338.0 L705.4 338.0 L708.5 338.0 L711.5 338.0 L714.5 338.0 L717.5 338.0 L720.5 338.0 L723.5 338.0 L726.5 338.0 L729.5 338.0 L732.5 338.0 L735.5 338.0 L738.5 338.0 L741.5 338.0 L744.5 338.0 L747.5 338.0 L750.5 338.0 L753.5 338.0 L756.5 338.0 L759.5 338.0 L762.6 338.0 L765.6 338.0 L768.6 338.0 L771.6 338.0 L774.6 338.0 L777.6 338.0 L780.6 338.0 L783.6 338.0 L786.6 338.0 L789.6 338.0 L792.6 338.0 L795.6 338.0 L798.6 338.0 L801.6 338.0 L804.6 338.0 L807.6 338.0 L810.6 338.0 L813.6 338.0 L816.7 338.0 L819.7 338.0 L822.7 338.0 L825.7 338.0 L828.7 338.0 L831.7 338.0 L834.7 338.0 L837.7 338.0 L840.7 338.0 L843.7 338.0 L846.7 338.0 L849.7 338.0 L852.7 338.0 L855.7 338.0 L858.7 338.0 L861.7 338.0 L864.7 338.0 L867.7 338.0 L870.8 338.0 L873.8 338.0 L876.8 338.0 L879.8 338.0 L882.8 338.0 L885.8 338.0 L888.8 338.0 L891.8 338.0 L894.8 338.0 L897.8 338.0 L900.8 338.0 L903.8 338.0 L906.8 338.0 L909.8 338.0 L912.8 338.0 L915.8 338.0 L918.8 338.0 L921.8 338.0 L924.9 338.0 L927.9 338.0 L930.9 338.0 L933.9 338.0 L936.9 338.0 L939.9 338.0 L942.9 338.0 L945.9 338.0 L948.9 338.0 L951.9 338.0 L954.9 338.0 L957.9 338.0 L960.9 338.0 L963.9 338.0 L966.9 338.0 L969.9 338.0 L972.9 338.0 L975.9 338.0 L979.0 338.0 L982.0 338.0 L985.0 338.0 L988.0 338.0 L991.0 338.0 L994.0 338.0 L997.0 338.0 L1000.0 338.0 L1003.0 338.0 L1004.5 338.0" fill="none" stroke="#009900" stroke-width="7.9" stroke-linejoin="round"/>
<path d="M360.5 947.0 L360.5 944.0 L360.5 940.9 L360.5 937.9 L360.5 934.9 L360.5 931.8 L360.5 928.8 L360.5 925.8 L360.5 922.7 L360.5 919.7 L360.5 916.7 L360.5 913.6 L360.5 910.6 L360.5 907.6 L360.5 904.6 L360.5 901.5 L360.5 898.5 L360.5 895.5 L360.5 892.5 L360.5 889.4 L360.5 886.4 L360.5 883.4 L360.5 880.4 L360.5 877.4 L360.5 874.3 L360.5 871.3 L360.5 868.3 L360.5 865.3 L360.5 862.3 L360.5 859.3 L360.6 856.2 L360.6 853.2 L360.6 850.2 L360.6 847.2 L360.6 844.2 L360.6 841.2 L360.6 838.2 L360.6 835.1 L360.6 832.1 L360.6 829.1 L360.6 826.1 L360.6 823.1 L360.6 820.1 L360.6 817.1 L360.6 814.1 L360.6 811.1 L360.6 808.1 L360.7 805.1 L360.7 802.0 L360.7 799.0 L360.7 796.0 L360.7 793.0 L360.7 790.0 L360.7 787.0 L360.7 784.0 L360.7 781.0 L360.7 778.0 L360.7 775.0 L360.8 772.0 L360.8 769.0 L360.8 766.0 L360.8 763.0 L360.8 760.0 L360.8 757.0 L360.8 754.0 L360.8 751.0 L360.9 748.0 L360.9 745.0 L360.9 742.0 L360.9 739.0 L360.9 736.0 L360.9 733.0 L360.9 730.1 L361.0 727.1 L361.0 724.1 L361.0 721.1 L361.0 718.1 L361.0 715.1 L361.0 712.1 L361.1 709.1 L361.1 706.1 L361.1 703.1 L361.1 700.1 L361.1 697.1 L361.2 694.1 L361.2 691.2 L361.2 688.2 L361.2 685.2 L361.2 682.2 L361.3 679.2 L361.3 676.2 L361.3 673.2 L361.3 670.2 L361.4 667.2 L361.4 664.3 L361.4 661.3 L361.4 658.3 L361.5 655.3 L361.5 652.3 L361.5 649.3 L361.5 646.3 L361.6 643.4 L361.6 640.4 L361.6 637.4 L361.7 634.4 L361.8 631.4 L362.0 628.4 L362.3 625.5 L362.7 622.5 L363.2 619.5 L363.8 616.6 L364.3 613.6 L364.8 610.6 L365.2 607.6 L365.4 604.7 L365.5 601.7 L365.6 598.7 L365.6 595.7 L365.6 592.7 L365.6 589.7 L365.6 586.7 L365.6 583.6 L365.6 580.6 L365.6 577.6 L365.6 574.6 L365.6 571.6 L365.6 568.6 L365.6 565.6 L365.7 562.6 L365.8 559.6 L366.0 556.6 L366.3 553.6 L366.6 550.6 L366.9 547.6 L367.3 544.6 L367.7 541.6 L368.2 538.7 L368.7 535.7 L369.2 532.7 L369.8 529.8 L370.4 526.9 L371.1 523.9 L371.8 521.0 L372.6 518.1 L373.3 515.2 L374.0 512.2 L374.5 509.2 L375.1 506.2 L375.6 503.1 L376.2 500.1 L376.8 497.2 L377.5 494.4 L378.4 491.6 L379.5 489.0 L380.9 486.4 L382.6 483.9 L384.6 481.5 L386.8 479.3 L389.1 477.4 L391.5 475.7 L394.1 474.3 L396.7 473.1 L399.5 472.2 L402.4 471.3 L405.4 470.5 L408.4 469.8 L411.3 469.2 L414.3 468.6 L417.3 468.1 L420.2 467.5 L423.2 467.1 L426.2 466.6 L429.2 466.1 L432.1 465.5 L435.1 465.0 L438.0 464.4 L441.0 463.9 L443.9 463.3 L446.9 462.9 L449.9 462.4 L452.9 462.1 L455.8 461.7 L458.8 461.5 L461.8 461.3 L464.8 461.0 L467.8 460.8 L470.8 460.6 L473.8 460.4 L476.8 460.2 L479.8 460.0 L482.8 459.8 L485.8 459.6 L488.8 459.4 L491.8 459.2 L494.8 459.0 L497.8 458.8 L500.8 458.6 L503.8 458.4 L506.8 458.2 L509.8 458.0 L512.8 457.8 L515.8 457.6 L518.8 457.4 L521.8 457.3 L524.8 457.1 L527.8 457.0 L530.8 456.9 L533.8 456.8 L536.8 456.7 L539.8 456.6 L542.8 456.5 L545.8 456.3 L548.8 456.1 L551.8 456.0 L554.8 455.8 L557.8 455.6 L560.8 455.4 L563.8 455.1 L566.8 454.9 L569.8 454.7 L572.8 454.5 L575.8 454.3 L578.8 454.0 L581.8 453.8 L584.8 453.6 L587.8 453.4 L590.8 453.2 L593.8 453.0 L596.8 452.8 L599.8 452.6 L602.8 452.5 L605.8 452.4 L608.8 452.2 L611.8 452.1 L614.8 452.0 L617.8 451.9 L620.8 451.7 L623.8 451.6 L626.8 451.5 L629.8 451.4 L632.8 451.3 L635.8 451.2 L638.8 451.1 L641.8 451.0 L644.8 450.9 L647.8 450.8 L650.8 450.7 L653.9 450.6 L656.9 450.5 L659.9 450.4 L662.9 450.4 L665.9 450.3 L668.9 450.2 L671.9 450.1 L674.9 450.0 L677.9 449.9 L680.9 449.9 L683.9 449.8 L686.9 449.7 L689.9 449.6 L692.9 449.6 L695.9 449.5 L698.9 449.4 L701.9 449.4 L704.9 449.3 L707.9 449.2 L710.9 449.1 L714.0 449.1 L717.0 449.0 L720.0 448.9 L723.0 448.9 L726.0 448.8 L729.0 448.7 L732.0 448.7 L735.0 448.6 L738.0 448.5 L741.0 448.5 L744.0 448.4 L747.0 448.3 L750.0 448.2 L753.0 448.2 L756.0 448.1 L759.0 448.0 L762.0 447.9 L765.0 447.9 L768.0 447.8 L771.0 447.7 L774.1 447.6 L777.1 447.6 L780.1 447.5 L783.1 447.4 L786.1 447.3 L789.1 447.2 L792.1 447.2 L795.1 447.1 L798.1 447.0 L801.1 446.9 L804.1 446.8 L807.1 446.8 L810.1 446.7 L813.1 446.6 L816.1 446.5 L819.1 446.5 L822.1 446.4 L825.1 446.3 L828.1 446.2 L831.1 446.2 L834.1 446.1 L837.2 446.0 L840.2 445.9 L843.2 445.9 L846.2 445.8 L849.2 445.7 L852.2 445.7 L855.2 445.6 L858.2 445.6 L861.2 445.5 L864.2 445.4 L867.2 445.4 L870.2 445.3 L873.2 445.3 L876.2 445.3 L879.2 445.2 L882.2 445.2 L885.2 445.1 L888.2 445.1 L891.2 445.1 L894.2 445.0 L897.3 445.0 L900.3 445.0 L903.3 445.0 L906.3 445.0 L909.3 444.9 L912.3 444.9 L915.3 444.9 L918.3 444.9 L921.3 444.9 L924.3 444.9 L927.3 444.8 L930.3 444.8 L933.3 444.8 L936.3 444.8 L939.3 444.8 L942.3 444.8 L945.3 444.7 L948.3 444.7 L951.3 444.7 L954.4 444.7 L957.4 444.7 L960.4 444.7 L963.4 444.6 L966.4 444.6 L969.4 444.6 L972.4 444.6 L975.4 444.6 L978.4 444.6 L981.4 444.6 L984.4 444.6 L987.4 444.5 L990.4 444.5 L993.4 444.5 L996.4 444.5 L999.4 444.5 L1002.4 444.5 L1005.4 444.5 L1008.4 444.5 L1011.5 444.5 L1014.5 444.4 L1017.5 444.4 L1020.5 444.4 L1023.5 444.4 L1026.5 444.4 L1029.5 444.4 L1032.5 444.4 L1035.5 444.4 L1038.5 444.4 L1041.5 444.4 L1044.5 444.4 L1047.5 444.4 L1050.5 444.3 L1053.5 444.3 L1056.5 444.3 L1059.5 444.3 L1062.5 444.3 L1065.6 444.3 L1068.6 444.3 L1071.6 444.3 L1074.6 444.3 L1077.6 444.3 L1080.6 444.3 L1083.6 444.3 L1086.6 444.3 L1089.6 444.3 L1092.6 444.3 L1095.6 444.3 L1098.6 444.3 L1101.6 444.3 L1104.6 444.3 L1107.6 444.3 L1110.6 444.3 L1113.6 444.3 L1116.6 444.3 L1119.7 444.3 L1122.7 444.3 L1125.7 444.3 L1128.7 444.3 L1131.7 444.3 L1134.7 444.3 L1137.7 444.3 L1140.7 444.3 L1143.7 444.3 L1146.7 444.3 L1149.7 444.3 L1152.7 444.3 L1155.7 444.3 L1158.7 444.3 L1161.7 444.3 L1164.7 444.3 L1167.7 444.4 L1170.8 444.4 L1173.8 444.4 L1176.8 444.4 L1179.8 444.4 L1182.8 444.4 L1185.8 444.4 L1188.8 444.4 L1191.8 444.4 L1194.8 444.4 L1197.8 444.4 L1200.8 444.4 L1203.8 444.4 L1206.8 444.4 L1209.8 444.4 L1212.8 444.4 L1215.8 444.5 L1218.8 444.5 L1221.8 444.5 L1224.8 444.5 L1227.9 444.5 L1230.9 444.5 L1233.9 444.5 L1236.9 444.6 L1239.9 444.6 L1242.9 444.7 L1245.9 444.8 L1248.9 444.9 L1251.9 445.0 L1254.9 445.1 L1257.9 445.2 L1260.9 445.3 L1263.9 445.4 L1266.9 445.5 L1269.9 445.7 L1272.9 445.8 L1275.9 446.0 L1278.9 446.1 L1281.9 446.2 L1284.9 446.4 L1287.9 446.5 L1290.9 446.6 L1293.9 446.8 L1296.9 446.9 L1299.9 447.0 L1302.9 447.1 L1305.9 447.2 L1308.9 447.3 L1312.0 447.4 L1315.0 447.5 L1318.0 447.7 L1321.0 447.8 L1324.0 447.9 L1327.0 448.0 L1330.0 448.1 L1333.0 448.2 L1336.0 448.3 L1339.0 448.4 L1342.0 448.5 L1345.0 448.7 L1348.0 448.8 L1351.0 448.9 L1354.0 449.0" fill="none" stroke="#0030d8" stroke-width="7.9" stroke-linejoin="round" stroke-dasharray="11.5 11.3" stroke-dashoffset="5.2"/>
<path d="M360.5 947.0 L360.6 944.0 L360.6 941.0 L360.7 938.0 L360.7 935.0 L360.8 932.0 L360.8 929.0 L360.9 926.0 L360.9 923.0 L361.0 920.0 L361.0 917.0 L361.1 914.0 L361.1 911.0 L361.2 908.0 L361.2 904.9 L361.3 901.9 L361.3 898.9 L361.3 895.9 L361.4 892.9 L361.4 889.9 L361.5 886.9 L361.5 883.9 L361.5 880.9 L361.6 877.9 L361.6 874.9 L361.6 871.9 L361.7 868.9 L361.7 865.9 L361.7 862.9 L361.7 859.9 L361.8 856.9 L361.8 853.9 L361.8 850.9 L361.8 847.9 L361.9 844.9 L361.9 841.9 L361.9 838.9 L361.9 835.9 L361.9 832.9 L361.9 829.9 L361.9 826.9 L362.0 823.8 L362.0 820.8 L362.0 817.8 L362.0 814.8 L362.0 811.8 L362.0 808.8 L362.0 805.8 L362.0 802.8 L362.0 799.8 L362.0 796.8 L362.0 793.8 L362.0 790.8 L362.0 787.7 L362.0 784.7 L361.9 781.7 L361.9 778.6 L361.9 775.6 L361.9 772.5 L361.9 769.5 L361.8 766.4 L361.8 763.4 L361.8 760.3 L361.7 757.3 L361.7 754.2 L361.7 751.1 L361.6 748.1 L361.6 745.0 L361.6 741.9 L361.5 738.9 L361.5 735.8 L361.4 732.8 L361.4 729.7 L361.4 726.6 L361.3 723.6 L361.3 720.5 L361.2 717.5 L361.2 714.4 L361.1 711.4 L361.1 708.4 L361.1 705.3 L361.0 702.3 L361.0 699.3 L360.9 696.3 L360.9 693.2 L360.9 690.2 L360.8 687.3 L360.8 684.3 L360.8 681.3 L360.7 678.3 L360.7 675.3 L360.7 672.4 L360.6 669.4 L360.6 666.5 L360.6 663.6 L360.6 660.7 L360.6 657.8 L360.5 654.9 L360.5 652.0 L360.5 649.1 L360.5 646.3 L360.6 643.4 L360.8 640.6 L361.2 637.7 L362.0 634.9 L363.0 632.1 L364.4 629.3 L365.9 626.7 L367.6 624.1 L369.4 621.8 L371.4 619.5 L373.6 617.4 L375.9 615.5 L378.4 613.8 L381.0 612.4 L383.7 611.2 L386.5 610.1 L389.3 609.2 L392.3 608.4 L395.2 607.7 L398.1 607.1 L401.1 606.6 L404.1 606.1 L407.0 605.7 L410.0 605.2 L413.0 604.8 L416.0 604.4 L419.0 604.0 L421.9 603.7 L424.9 603.3 L427.9 603.0 L430.9 602.6 L433.9 602.3 L436.9 601.9 L439.8 601.6 L442.8 601.3 L445.8 601.0 L448.8 600.6 L451.8 600.3 L454.8 600.0 L457.8 599.7 L460.7 599.3 L463.7 599.0 L466.7 598.7 L469.7 598.3 L472.7 598.0 L475.7 597.7 L478.7 597.3 L481.6 597.0 L484.6 596.7 L487.6 596.4 L490.6 596.0 L493.6 595.7 L496.6 595.4 L499.6 595.0 L502.5 594.6 L505.5 594.2 L508.5 593.8 L511.5 593.4 L514.5 593.1 L517.4 592.8 L520.4 592.5 L523.4 592.3 L526.4 592.2 L529.4 592.1 L532.4 591.9 L535.4 591.8 L538.4 591.7 L541.4 591.5 L544.4 591.3 L547.4 591.0 L550.4 590.7 L553.4 590.4 L556.4 590.1 L559.4 589.7 L562.3 589.4 L565.3 589.1 L568.3 588.8 L571.3 588.5 L574.3 588.2 L577.3 587.9 L580.3 587.6 L583.3 587.4 L586.3 587.1 L589.3 586.8 L592.3 586.6 L595.3 586.4 L598.2 586.1 L601.2 585.9 L604.2 585.7 L607.2 585.5 L610.2 585.4 L613.2 585.2 L616.2 585.0 L619.2 584.8 L622.2 584.7 L625.2 584.5 L628.2 584.4 L631.2 584.2 L634.2 584.1 L637.2 583.9 L640.2 583.8 L643.2 583.6 L646.2 583.5 L649.2 583.3 L652.2 583.2 L655.2 583.1 L658.2 582.9 L661.2 582.8 L664.2 582.7 L667.2 582.5 L670.2 582.4 L673.2 582.3 L676.2 582.1 L679.2 582.0 L682.2 581.9 L685.2 581.7 L688.2 581.6 L691.2 581.4 L694.2 581.3 L697.2 581.1 L700.2 581.0 L703.2 580.8 L706.2 580.7 L709.2 580.5 L712.2 580.4 L715.2 580.2 L718.2 580.0 L721.2 579.9 L724.2 579.7 L727.2 579.6 L730.2 579.4 L733.2 579.2 L736.2 579.1 L739.2 578.9 L742.2 578.7 L745.2 578.6 L748.2 578.4 L751.2 578.2 L754.2 578.1 L757.2 577.9 L760.2 577.7 L763.2 577.6 L766.2 577.4 L769.2 577.2 L772.2 577.1 L775.2 576.9 L778.2 576.7 L781.2 576.6 L784.2 576.4 L787.2 576.2 L790.2 576.1 L793.2 575.9 L796.2 575.8 L799.2 575.6 L802.2 575.4 L805.2 575.3 L808.2 575.1 L811.2 575.0 L814.2 574.8 L817.2 574.7 L820.2 574.5 L823.2 574.4 L826.2 574.2 L829.2 574.1 L832.2 573.9 L835.2 573.8 L838.2 573.6 L841.2 573.5 L844.2 573.3 L847.2 573.2 L850.2 573.1 L853.2 572.9 L856.2 572.8 L859.2 572.7 L862.2 572.6 L865.2 572.4 L868.2 572.3 L871.2 572.2 L874.2 572.1 L877.2 572.0 L880.2 571.9 L883.2 571.7 L886.2 571.6 L889.2 571.5 L892.2 571.4 L895.2 571.3 L898.3 571.2 L901.3 571.1 L904.3 571.0 L907.3 570.9 L910.3 570.8 L913.3 570.6 L916.3 570.5 L919.3 570.4 L922.3 570.3 L925.3 570.2 L928.3 570.1 L931.3 570.0 L934.3 569.9 L937.3 569.8 L940.3 569.7 L943.3 569.6 L946.3 569.5 L949.3 569.4 L952.3 569.3 L955.3 569.2 L958.3 569.1 L961.3 569.0 L964.3 568.9 L967.3 568.8 L970.3 568.6 L973.3 568.5 L976.3 568.4 L979.3 568.3 L982.3 568.2 L985.3 568.1 L988.3 568.0 L991.3 567.8 L994.3 567.7 L997.3 567.6 L1000.3 567.5 L1003.3 567.4 L1006.3 567.2 L1009.3 567.1 L1012.3 567.0 L1015.3 566.8 L1018.3 566.7 L1021.3 566.5 L1024.3 566.4 L1027.3 566.3 L1030.3 566.1 L1033.3 566.0 L1036.3 565.8 L1039.3 565.7 L1042.3 565.5 L1045.3 565.4 L1048.3 565.2 L1051.3 565.1 L1054.3 564.9 L1057.3 564.8 L1060.3 564.6 L1063.3 564.5 L1066.3 564.4 L1069.3 564.2 L1072.3 564.1 L1075.3 563.9 L1078.3 563.8 L1081.3 563.7 L1084.3 563.6 L1087.3 563.5 L1090.3 563.3 L1093.3 563.2 L1096.3 563.1 L1099.3 563.0 L1102.3 562.9 L1105.3 562.8 L1108.3 562.7 L1111.4 562.6 L1114.4 562.6 L1117.4 562.5 L1120.4 562.4 L1123.4 562.3 L1126.4 562.2 L1129.4 562.1 L1132.4 562.0 L1135.4 561.9 L1138.4 561.8 L1141.4 561.8 L1144.4 561.7 L1147.4 561.6 L1150.4 561.5 L1153.4 561.4 L1156.4 561.3 L1159.4 561.3 L1162.4 561.2 L1165.4 561.1 L1168.4 561.0 L1171.4 560.9 L1174.4 560.9 L1177.4 560.8 L1180.4 560.7 L1183.4 560.6 L1186.4 560.5 L1189.4 560.5 L1192.4 560.4 L1195.4 560.3 L1198.4 560.2 L1201.4 560.2 L1204.4 560.1 L1207.4 560.0 L1210.4 560.0 L1213.4 559.9 L1216.4 559.8 L1219.4 559.7 L1222.4 559.7 L1225.5 559.6 L1228.5 559.5 L1231.5 559.5 L1234.5 559.4 L1237.5 559.3 L1240.5 559.3 L1243.5 559.2 L1246.5 559.1 L1249.5 559.1 L1252.5 559.0 L1255.5 558.9 L1258.5 558.9 L1261.5 558.8 L1264.5 558.8 L1267.5 558.7 L1270.5 558.6 L1273.5 558.6 L1276.5 558.5 L1279.5 558.4 L1282.5 558.4 L1285.5 558.3 L1288.5 558.3 L1291.5 558.2 L1294.5 558.2 L1297.5 558.1 L1300.5 558.0 L1303.5 558.0 L1306.5 557.9 L1309.5 557.9 L1312.6 557.8 L1315.6 557.8 L1318.6 557.7 L1321.6 557.6 L1324.6 557.6 L1327.6 557.5 L1330.6 557.5 L1333.6 557.4 L1336.6 557.4 L1339.6 557.3 L1342.6 557.3 L1345.6 557.2 L1348.6 557.2 L1351.6 557.1 L1354.6 557.1 L1357.6 557.0 L1360.6 557.0 L1363.6 556.9 L1366.6 556.9 L1369.6 556.8 L1372.6 556.8 L1375.6 556.7 L1378.6 556.7 L1381.6 556.6 L1384.6 556.6 L1387.6 556.5 L1390.6 556.5 L1393.6 556.4 L1396.6 556.4 L1399.7 556.3 L1402.7 556.3 L1405.7 556.2 L1408.7 556.2 L1411.7 556.1 L1414.7 556.1 L1417.7 556.0 L1420.7 556.0 L1423.7 555.9 L1426.7 555.9 L1429.7 555.8 L1432.7 555.8 L1435.7 555.8 L1438.7 555.7 L1441.7 555.7 L1444.7 555.6 L1447.7 555.6 L1450.7 555.5 L1453.7 555.5 L1456.7 555.5 L1459.7 555.4 L1462.7 555.4 L1465.7 555.3 L1468.7 555.3 L1471.7 555.3 L1474.7 555.2 L1477.7 555.2 L1480.7 555.2 L1483.8 555.1 L1486.8 555.1 L1489.8 555.1 L1492.8 555.1 L1495.8 555.0 L1498.8 555.0 L1501.8 555.0 L1504.8 555.0 L1507.8 554.9 L1510.8 554.9 L1513.8 554.9 L1516.8 554.9 L1519.8 554.9 L1522.8 554.8 L1525.8 554.8 L1528.8 554.8 L1531.8 554.8 L1534.8 554.8 L1537.8 554.7 L1540.8 554.7 L1543.8 554.7 L1546.8 554.7 L1549.8 554.7 L1552.8 554.6 L1555.8 554.6 L1558.8 554.6 L1561.8 554.6 L1564.9 554.6 L1567.9 554.5 L1570.9 554.5 L1573.9 554.5 L1576.9 554.5 L1579.9 554.5 L1582.9 554.5 L1585.9 554.4 L1588.9 554.4 L1591.9 554.4 L1594.9 554.4 L1597.9 554.4 L1600.9 554.4 L1603.9 554.3 L1606.9 554.3 L1609.9 554.3 L1612.9 554.3 L1615.9 554.3 L1618.9 554.3 L1621.9 554.3 L1624.9 554.3 L1627.9 554.2 L1630.9 554.2 L1633.9 554.2 L1636.9 554.2 L1639.9 554.2 L1643.0 554.2 L1646.0 554.2 L1649.0 554.2 L1652.0 554.1 L1655.0 554.1 L1658.0 554.1 L1661.0 554.1 L1664.0 554.1 L1667.0 554.1 L1670.0 554.1 L1673.0 554.1 L1676.0 554.1 L1679.0 554.1 L1682.0 554.0 L1685.0 554.0 L1688.0 554.0 L1691.0 554.0 L1694.0 554.0 L1697.0 554.0 L1700.0 554.0 L1703.0 554.0 L1706.0 554.0 L1709.0 554.0 L1712.0 554.0 L1715.0 554.0 L1718.0 554.0 L1721.1 554.0 L1724.1 553.9 L1727.1 553.9 L1730.1 553.9 L1733.1 553.9 L1736.1 553.9 L1739.1 553.9 L1742.1 553.9 L1745.1 553.9 L1748.1 553.9 L1751.1 553.9 L1754.1 553.9 L1757.1 553.9 L1760.1 553.9 L1763.1 553.9 L1766.1 553.9 L1769.1 553.8 L1772.1 553.8 L1775.1 553.8 L1778.1 553.8 L1781.1 553.8 L1784.1 553.8 L1787.1 553.8 L1790.1 553.8 L1793.1 553.8 L1796.1 553.8 L1799.2 553.8 L1802.2 553.8 L1805.2 553.8 L1808.2 553.8 L1811.2 553.8 L1814.2 553.8 L1817.2 553.8 L1820.2 553.8 L1823.2 553.8 L1826.2 553.8 L1829.2 553.7 L1832.2 553.7 L1835.2 553.7 L1838.2 553.7 L1841.2 553.7 L1844.2 553.7 L1847.2 553.7 L1850.2 553.7 L1853.2 553.7 L1856.2 553.7 L1859.2 553.7 L1862.2 553.7 L1865.2 553.7 L1868.2 553.7 L1871.2 553.7 L1874.2 553.7 L1877.3 553.7 L1880.3 553.7 L1883.3 553.7 L1886.3 553.7 L1889.3 553.7 L1892.3 553.7 L1895.3 553.7 L1898.3 553.7 L1901.3 553.7 L1904.3 553.7 L1907.3 553.7 L1910.3 553.7 L1913.3 553.7 L1916.3 553.7 L1919.3 553.7 L1922.3 553.8 L1925.3 553.8 L1928.3 553.8 L1931.3 553.8 L1934.3 553.8 L1937.3 553.8 L1940.3 553.9 L1943.3 553.9 L1946.3 553.9 L1949.3 553.9 L1952.3 554.0 L1955.4 554.0 L1958.4 554.0 L1961.4 554.1 L1964.4 554.1 L1967.4 554.1 L1970.4 554.1 L1973.4 554.2 L1976.4 554.2 L1979.4 554.2 L1982.4 554.3 L1985.4 554.3 L1988.4 554.4 L1991.4 554.4 L1994.4 554.4 L1997.4 554.5 L2000.4 554.5 L2003.4 554.5 L2006.4 554.6 L2009.4 554.6 L2012.4 554.7 L2015.4 554.7 L2018.4 554.8 L2021.4 554.9 L2024.4 554.9 L2027.4 555.0 L2030.4 555.1 L2033.4 555.1 L2036.4 555.2 L2039.4 555.3 L2042.4 555.4 L2045.4 555.5 L2048.4 555.6 L2051.4 555.6 L2054.5 555.7 L2057.5 555.8 L2060.5 555.9 L2063.5 556.0 L2066.5 556.1 L2069.5 556.3 L2072.5 556.4 L2075.5 556.5 L2078.5 556.6 L2081.5 556.7 L2084.5 556.8 L2087.5 556.9 L2090.5 557.1 L2093.5 557.2 L2096.5 557.3 L2099.5 557.5 L2102.5 557.6 L2105.5 557.7 L2108.5 557.9 L2111.5 558.0 L2114.5 558.1 L2117.5 558.3 L2120.5 558.4 L2123.5 558.6 L2126.5 558.7 L2129.5 558.9 L2132.5 559.0 L2135.5 559.2 L2138.5 559.3 L2141.5 559.5 L2144.5 559.6 L2146.0 559.7" fill="none" stroke="#000000" stroke-width="7.9" stroke-linejoin="round" stroke-dasharray="11.5 11.3" stroke-dashoffset="21.7"/>
<rect x="1413.4" y="112" width="700.9" height="401.7" fill="#fff" stroke="#000" stroke-width="5.5"/>
<text x="1634.2" y="184.1" font-size="68.5" font-weight="normal" letter-spacing="0.90">Mod</text>
<text x="1918.0" y="184.1" font-size="68.5" font-weight="normal" letter-spacing="0.65">Exp</text>
<text x="1426.0" y="259.1" font-size="68.5" font-weight="normal" letter-spacing="1.21">NTA</text>
<line x1="1649.0" y1="239.5" x2="1771.0" y2="239.5" stroke="#ff0000" stroke-width="8.5" stroke-linecap="butt"/>
<line x1="1944.5" y1="239.5" x2="2068.5" y2="239.5" stroke="#ff0000" stroke-width="8" stroke-linecap="round" stroke-dasharray="4.5 19.2"/>
<text x="1426.0" y="334.6" font-size="68.5" font-weight="normal" letter-spacing="-0.05">NTB</text>
<line x1="1649.0" y1="315.0" x2="1771.0" y2="315.0" stroke="#009900" stroke-width="8.5" stroke-linecap="butt"/>
<line x1="1944.5" y1="315.0" x2="2068.5" y2="315.0" stroke="#009900" stroke-width="8" stroke-linecap="round" stroke-dasharray="4.5 19.2"/>
<text x="1426.0" y="410.1" font-size="68.5" font-weight="normal" letter-spacing="-0.99">NTC</text>
<line x1="1654.0" y1="390.5" x2="1776.0" y2="390.5" stroke="#0030d8" stroke-width="8.5" stroke-linecap="butt"/>
<line x1="1947.0" y1="390.5" x2="2071.0" y2="390.5" stroke="#0030d8" stroke-width="8" stroke-linecap="round" stroke-dasharray="4.5 19.2"/>
<text x="1426.0" y="485.6" font-size="68.5" font-weight="normal" letter-spacing="-0.35">NTD</text>
<line x1="1654.0" y1="466.0" x2="1776.0" y2="466.0" stroke="#000000" stroke-width="8.5" stroke-linecap="butt"/>
<line x1="1947.0" y1="466.0" x2="2071.0" y2="466.0" stroke="#000000" stroke-width="8" stroke-linecap="round" stroke-dasharray="4.5 19.2"/>
<text x="1062.8" y="1151.0" font-size="69" font-weight="normal" letter-spacing="-0.24">True strain</text>
<text transform="translate(148.8,829.0) rotate(-90)" x="-1.4" y="0" font-size="69" letter-spacing="-0.92">True stress (MPa)</text>
<text transform="matrix(0.8354 0 0 0.9823 21.42 116.02)" font-size="100" font-weight="bold">(</text>
<text transform="matrix(0.9465 0 0 1.0265 59.16 127.57)" font-size="100" font-weight="bold">a</text>
<text transform="matrix(0.8500 0 0 0.9823 124.79 116.02)" font-size="100" font-weight="bold">)</text>
</g>
<g id="pb">
<line x1="717.3" y1="2116.0" x2="717.3" y2="2073.0" stroke="#000" stroke-width="5.2" stroke-linecap="butt"/>
<line x1="717.3" y1="1243.0" x2="717.3" y2="1286.0" stroke="#000" stroke-width="5.2" stroke-linecap="butt"/>
<line x1="1074.6" y1="2116.0" x2="1074.6" y2="2073.0" stroke="#000" stroke-width="5.2" stroke-linecap="butt"/>
<line x1="1074.6" y1="1243.0" x2="1074.6" y2="1286.0" stroke="#000" stroke-width="5.2" stroke-linecap="butt"/>
<line x1="1431.9" y1="2116.0" x2="1431.9" y2="2073.0" stroke="#000" stroke-width="5.2" stroke-linecap="butt"/>
<line x1="1431.9" y1="1243.0" x2="1431.9" y2="1286.0" stroke="#000" stroke-width="5.2" stroke-linecap="butt"/>
<line x1="1789.2" y1="2116.0" x2="1789.2" y2="2073.0" stroke="#000" stroke-width="5.2" stroke-linecap="butt"/>
<line x1="1789.2" y1="1243.0" x2="1789.2" y2="1286.0" stroke="#000" stroke-width="5.2" stroke-linecap="butt"/>
<line x1="360.0" y1="1970.5" x2="403.0" y2="1970.5" stroke="#000" stroke-width="5.2" stroke-linecap="butt"/>
<line x1="2146.5" y1="1970.5" x2="2103.5" y2="1970.5" stroke="#000" stroke-width="5.2" stroke-linecap="butt"/>
<line x1="360.0" y1="1825.0" x2="403.0" y2="1825.0" stroke="#000" stroke-width="5.2" stroke-linecap="butt"/>
<line x1="2146.5" y1="1825.0" x2="2103.5" y2="1825.0" stroke="#000" stroke-width="5.2" stroke-linecap="butt"/>
<line x1="360.0" y1="1679.5" x2="403.0" y2="1679.5" stroke="#000" stroke-width="5.2" stroke-linecap="butt"/>
<line x1="2146.5" y1="1679.5" x2="2103.5" y2="1679.5" stroke="#000" stroke-width="5.2" stroke-linecap="butt"/>
<line x1="360.0" y1="1534.0" x2="403.0" y2="1534.0" stroke="#000" stroke-width="5.2" stroke-linecap="butt"/>
<line x1="2146.5" y1="1534.0" x2="2103.5" y2="1534.0" stroke="#000" stroke-width="5.2" stroke-linecap="butt"/>
<line x1="360.0" y1="1388.5" x2="403.0" y2="1388.5" stroke="#000" stroke-width="5.2" stroke-linecap="butt"/>
<line x1="2146.5" y1="1388.5" x2="2103.5" y2="1388.5" stroke="#000" stroke-width="5.2" stroke-linecap="butt"/>
<rect x="360.0" y="1243.0" width="1786.5" height="873.0" fill="none" stroke="#000" stroke-width="5.5"/>
<text x="304.2" y="2191.0" font-size="58" letter-spacing="-0.50">0.00</text>
<text x="661.6" y="2191.0" font-size="58" letter-spacing="-0.50">0.05</text>
<text x="1018.8" y="2191.0" font-size="58" letter-spacing="-0.50">0.10</text>
<text x="1376.2" y="2191.0" font-size="58" letter-spacing="-0.50">0.15</text>
<text x="1733.4" y="2191.0" font-size="58" letter-spacing="-0.50">0.20</text>
<text x="2090.8" y="2191.0" font-size="58" letter-spacing="-0.50">0.25</text>
<text x="306.6" y="2135.5" font-size="58" letter-spacing="-0.50">0</text>
<text x="243.3" y="1990.0" font-size="58" letter-spacing="-0.50">100</text>
<text x="243.3" y="1844.5" font-size="58" letter-spacing="-0.50">200</text>
<text x="243.3" y="1699.0" font-size="58" letter-spacing="-0.50">300</text>
<text x="243.3" y="1553.5" font-size="58" letter-spacing="-0.50">400</text>
<text x="243.3" y="1408.0" font-size="58" letter-spacing="-0.50">500</text>
<text x="243.3" y="1262.5" font-size="58" letter-spacing="-0.50">600</text>
<path d="M360.5 2113.0 L360.6 2110.0 L360.6 2107.0 L360.7 2104.0 L360.8 2101.0 L360.8 2098.0 L360.9 2095.0 L361.0 2092.0 L361.0 2089.0 L361.1 2086.0 L361.2 2083.0 L361.2 2080.0 L361.3 2077.0 L361.4 2074.0 L361.4 2071.0 L361.5 2067.9 L361.6 2064.9 L361.6 2061.9 L361.7 2058.9 L361.8 2055.9 L361.8 2052.9 L361.9 2049.9 L361.9 2046.9 L362.0 2043.9 L362.1 2040.9 L362.1 2037.9 L362.2 2034.9 L362.3 2031.9 L362.3 2028.9 L362.4 2025.9 L362.5 2022.9 L362.5 2019.9 L362.6 2016.9 L362.7 2013.9 L362.7 2010.9 L362.8 2007.9 L362.8 2004.9 L362.9 2001.9 L363.0 1998.9 L363.0 1995.9 L363.1 1992.9 L363.2 1989.9 L363.2 1986.8 L363.3 1983.8 L363.4 1980.8 L363.4 1977.8 L363.5 1974.8 L363.5 1971.8 L363.6 1968.8 L363.7 1965.8 L363.7 1962.8 L363.8 1959.8 L363.9 1956.8 L363.9 1953.8 L364.0 1950.8 L364.0 1947.8 L364.1 1944.8 L364.2 1941.8 L364.2 1938.8 L364.3 1935.8 L364.3 1932.8 L364.4 1929.8 L364.5 1926.8 L364.5 1923.8 L364.6 1920.8 L364.6 1917.8 L364.7 1914.8 L364.8 1911.8 L364.8 1908.8 L364.9 1905.8 L364.9 1902.7 L365.0 1899.7 L365.0 1896.7 L365.1 1893.7 L365.2 1890.7 L365.2 1887.7 L365.3 1884.7 L365.3 1881.7 L365.4 1878.7 L365.4 1875.7 L365.5 1872.7 L365.5 1869.7 L365.6 1866.7 L365.7 1863.7 L365.7 1860.7 L365.8 1857.7 L365.8 1854.7 L365.9 1851.7 L365.9 1848.7 L366.0 1845.7 L366.0 1842.7 L366.1 1839.7 L366.2 1836.7 L366.2 1833.7 L366.3 1830.7 L366.3 1827.7 L366.4 1824.6 L366.4 1821.6 L366.5 1818.6 L366.6 1815.6 L366.6 1812.6 L366.7 1809.6 L366.7 1806.6 L366.8 1803.6 L366.9 1800.6 L366.9 1797.6 L367.0 1794.6 L367.1 1791.6 L367.1 1788.6 L367.2 1785.6 L367.2 1782.6 L367.3 1779.6 L367.4 1776.6 L367.4 1773.6 L367.5 1770.6 L367.6 1767.6 L367.7 1764.6 L367.7 1761.6 L367.8 1758.6 L367.9 1755.6 L367.9 1752.6 L368.0 1749.6 L368.1 1746.6 L368.1 1743.6 L368.2 1740.5 L368.3 1737.5 L368.3 1734.5 L368.4 1731.5 L368.5 1728.5 L368.5 1725.5 L368.6 1722.5 L368.7 1719.5 L368.7 1716.5 L368.8 1713.5 L368.9 1710.5 L368.9 1707.5 L369.0 1704.5 L369.1 1701.4 L369.1 1698.4 L369.2 1695.4 L369.3 1692.4 L369.4 1689.4 L369.5 1686.4 L369.6 1683.4 L369.7 1680.4 L369.8 1677.4 L369.9 1674.4 L370.0 1671.4 L370.1 1668.4 L370.2 1665.4 L370.4 1662.4 L370.5 1659.4 L370.7 1656.4 L370.8 1653.4 L371.0 1650.3 L371.2 1647.2 L371.5 1643.9 L371.8 1640.7 L372.2 1637.5 L372.6 1634.6 L373.3 1631.9 L374.2 1629.7 L375.6 1627.9 L377.5 1626.4 L380.1 1625.2 L382.9 1624.0 L385.9 1622.9 L388.7 1621.5 L391.1 1619.8 L393.1 1617.8 L394.8 1615.5 L396.4 1613.0 L398.0 1610.3 L399.6 1607.6 L401.3 1605.1 L403.1 1602.7 L405.1 1600.5 L407.2 1598.4 L409.4 1596.4 L411.8 1594.5 L414.2 1592.6 L416.6 1590.7 L419.0 1589.0 L421.5 1587.2 L424.0 1585.5 L426.5 1583.8 L429.0 1582.2 L431.6 1580.6 L434.1 1579.0 L436.8 1577.6 L439.4 1576.1 L442.1 1574.8 L444.8 1573.5 L447.5 1572.3 L450.3 1571.1 L453.0 1570.0 L455.9 1569.0 L458.7 1567.9 L461.5 1566.9 L464.4 1566.0 L467.3 1565.1 L470.2 1564.2 L473.1 1563.4 L476.0 1562.6 L478.9 1561.9 L481.8 1561.2 L484.7 1560.5 L487.6 1559.8 L490.6 1559.2 L493.5 1558.6 L496.5 1558.1 L499.4 1557.5 L502.4 1557.0 L505.4 1556.4 L508.3 1555.9 L511.3 1555.4 L514.2 1554.8 L517.2 1554.3 L520.2 1553.8 L523.1 1553.3 L526.1 1552.8 L529.1 1552.4 L532.0 1551.9 L535.0 1551.5 L538.0 1551.2 L541.0 1550.8 L544.0 1550.5 L546.9 1550.3 L549.9 1550.0 L552.9 1549.7 L555.9 1549.5 L558.9 1549.2 L561.9 1549.0 L564.9 1548.8 L567.9 1548.6 L570.9 1548.4 L573.9 1548.2 L576.9 1548.0 L579.9 1547.8 L582.9 1547.6 L585.9 1547.4 L588.9 1547.2 L591.9 1547.0 L594.9 1546.8 L597.9 1546.6 L600.9 1546.4 L603.9 1546.3 L606.9 1546.1 L609.9 1545.9 L612.9 1545.7 L615.9 1545.6 L618.9 1545.4 L621.9 1545.2 L624.9 1545.1 L627.9 1544.9 L630.9 1544.8 L633.9 1544.6 L636.9 1544.4 L639.9 1544.3 L642.9 1544.1 L645.9 1544.0 L648.9 1543.8 L651.9 1543.7 L654.9 1543.5 L657.9 1543.4 L660.9 1543.2 L663.9 1543.1 L666.9 1542.9 L669.9 1542.8 L672.9 1542.7 L675.9 1542.5 L678.9 1542.4 L681.9 1542.2 L684.9 1542.1 L687.9 1542.0 L690.9 1541.8 L693.9 1541.7 L696.9 1541.6 L699.9 1541.4 L702.9 1541.3 L705.9 1541.2 L708.9 1541.1 L711.9 1540.9 L714.9 1540.8 L717.9 1540.7 L720.9 1540.5 L723.9 1540.4 L726.9 1540.3 L729.9 1540.2 L732.9 1540.0 L735.9 1539.9 L738.9 1539.8 L741.9 1539.7 L744.9 1539.6 L747.9 1539.4 L750.9 1539.3 L753.9 1539.2 L756.9 1539.1 L759.9 1539.0 L762.9 1538.9 L765.9 1538.7 L769.0 1538.6 L772.0 1538.5 L775.0 1538.4 L778.0 1538.3 L781.0 1538.2 L784.0 1538.1 L787.0 1537.9 L790.0 1537.8 L793.0 1537.7 L796.0 1537.6 L799.0 1537.5 L802.0 1537.3 L805.0 1537.2 L808.0 1537.1 L811.0 1537.0 L814.0 1536.8 L817.0 1536.7 L820.0 1536.5 L823.0 1536.4 L826.0 1536.2 L829.0 1536.1 L832.0 1535.9 L835.0 1535.8 L838.0 1535.6 L841.0 1535.4 L844.0 1535.3 L847.0 1535.1 L850.0 1534.9 L853.0 1534.7 L856.0 1534.6 L859.0 1534.4 L862.0 1534.2 L865.0 1534.1 L868.0 1533.9 L871.0 1533.7 L874.0 1533.6 L877.0 1533.4 L880.0 1533.3 L883.0 1533.1 L886.0 1533.0 L889.0 1532.9 L892.0 1532.7 L895.0 1532.6 L898.0 1532.5 L901.0 1532.4 L904.0 1532.3 L907.0 1532.2 L910.0 1532.1 L913.0 1532.1 L916.0 1532.0 L919.0 1531.9 L922.0 1531.9 L925.0 1531.8 L928.0 1531.8 L931.0 1531.7 L934.0 1531.7 L937.0 1531.6 L940.0 1531.6 L943.0 1531.5 L946.0 1531.5 L949.0 1531.5 L952.1 1531.4 L955.1 1531.4 L958.1 1531.3 L961.1 1531.3 L964.1 1531.3 L967.1 1531.2 L970.1 1531.2 L973.1 1531.2 L976.1 1531.1 L979.1 1531.1 L982.1 1531.1 L985.1 1531.1 L988.1 1531.1 L991.1 1531.0 L994.1 1531.0 L997.1 1531.0 L1000.1 1531.0 L1003.1 1531.0 L1006.1 1531.0 L1009.1 1531.0 L1012.1 1531.0 L1015.1 1531.0 L1018.1 1531.0 L1021.2 1530.9 L1024.2 1530.9 L1027.2 1530.9 L1030.2 1530.9 L1033.2 1530.9 L1036.2 1530.9 L1039.2 1530.9 L1042.2 1530.9 L1045.2 1530.9 L1048.2 1530.9 L1051.2 1530.9 L1054.2 1530.9 L1057.2 1530.9 L1060.2 1530.9 L1063.2 1530.9 L1066.2 1530.8 L1069.2 1530.8 L1072.2 1530.8 L1075.2 1530.8 L1078.2 1530.8 L1081.2 1530.8 L1084.2 1530.8 L1087.3 1530.8 L1090.3 1530.8 L1093.3 1530.8 L1096.3 1530.8 L1099.3 1530.8 L1102.3 1530.8 L1105.3 1530.8 L1108.3 1530.8 L1111.3 1530.8 L1114.3 1530.8 L1117.3 1530.8 L1120.3 1530.8 L1123.3 1530.8 L1126.3 1530.8 L1129.3 1530.7 L1132.3 1530.7 L1135.3 1530.7 L1138.3 1530.7 L1141.3 1530.7 L1144.3 1530.7 L1147.3 1530.7 L1150.3 1530.7 L1153.4 1530.7 L1156.4 1530.7 L1159.4 1530.7 L1162.4 1530.7 L1165.4 1530.7 L1168.4 1530.7 L1171.4 1530.7 L1174.4 1530.7 L1177.4 1530.7 L1180.4 1530.7 L1183.4 1530.7 L1186.4 1530.7 L1189.4 1530.7 L1192.4 1530.7 L1195.4 1530.7 L1198.4 1530.7 L1201.4 1530.7 L1204.4 1530.7 L1207.4 1530.7 L1210.4 1530.7 L1213.4 1530.7 L1216.4 1530.7 L1219.4 1530.7 L1222.4 1530.7 L1225.4 1530.8 L1228.4 1530.8 L1231.4 1530.8 L1234.5 1530.9 L1237.5 1531.0 L1240.5 1531.0 L1243.5 1531.1 L1246.5 1531.2 L1249.5 1531.3 L1252.5 1531.4 L1255.5 1531.6 L1258.5 1531.7 L1261.5 1531.8 L1264.5 1531.9 L1267.5 1532.0 L1270.5 1532.2 L1273.5 1532.3 L1276.5 1532.4 L1279.5 1532.6 L1282.5 1532.7 L1285.5 1532.8 L1288.5 1532.9 L1290.0 1533.0" fill="none" stroke="#ff0000" stroke-width="7.9" stroke-linejoin="round" stroke-dasharray="11.5 11.3" stroke-dashoffset="0.5"/>
<path d="M360.5 2113.0 L360.6 2110.0 L360.6 2107.0 L360.7 2104.0 L360.8 2101.0 L360.8 2098.0 L360.9 2095.0 L361.0 2092.0 L361.0 2089.0 L361.1 2086.0 L361.2 2083.0 L361.2 2080.0 L361.3 2077.0 L361.4 2074.0 L361.4 2070.9 L361.5 2067.9 L361.6 2064.9 L361.6 2061.9 L361.7 2058.9 L361.8 2055.9 L361.8 2052.9 L361.9 2049.9 L361.9 2046.9 L362.0 2043.9 L362.1 2040.9 L362.1 2037.9 L362.2 2034.9 L362.3 2031.9 L362.3 2028.9 L362.4 2025.9 L362.5 2022.9 L362.5 2019.9 L362.6 2016.9 L362.7 2013.9 L362.7 2010.9 L362.8 2007.9 L362.8 2004.9 L362.9 2001.9 L363.0 1998.9 L363.0 1995.9 L363.1 1992.9 L363.2 1989.8 L363.2 1986.8 L363.3 1983.8 L363.4 1980.8 L363.4 1977.8 L363.5 1974.8 L363.5 1971.8 L363.6 1968.8 L363.7 1965.8 L363.7 1962.8 L363.8 1959.8 L363.9 1956.8 L363.9 1953.8 L364.0 1950.8 L364.0 1947.8 L364.1 1944.8 L364.2 1941.8 L364.2 1938.8 L364.3 1935.8 L364.4 1932.8 L364.4 1929.8 L364.5 1926.8 L364.5 1923.8 L364.6 1920.8 L364.7 1917.8 L364.7 1914.8 L364.8 1911.8 L364.8 1908.7 L364.9 1905.7 L365.0 1902.7 L365.0 1899.7 L365.1 1896.7 L365.1 1893.7 L365.2 1890.7 L365.2 1887.7 L365.3 1884.7 L365.4 1881.7 L365.4 1878.7 L365.5 1875.7 L365.5 1872.7 L365.6 1869.7 L365.7 1866.7 L365.7 1863.7 L365.8 1860.7 L365.8 1857.7 L365.9 1854.7 L366.0 1851.7 L366.0 1848.7 L366.1 1845.7 L366.1 1842.7 L366.2 1839.7 L366.2 1836.7 L366.3 1833.7 L366.4 1830.6 L366.4 1827.6 L366.5 1824.6 L366.5 1821.6 L366.6 1818.6 L366.7 1815.6 L366.7 1812.6 L366.8 1809.6 L366.8 1806.6 L366.9 1803.6 L367.0 1800.6 L367.0 1797.6 L367.1 1794.6 L367.1 1791.6 L367.2 1788.6 L367.3 1785.6 L367.3 1782.6 L367.4 1779.6 L367.4 1776.6 L367.5 1773.6 L367.6 1770.6 L367.6 1767.6 L367.7 1764.6 L367.8 1761.6 L367.8 1758.6 L367.9 1755.6 L367.9 1752.6 L368.0 1749.5 L368.1 1746.5 L368.1 1743.5 L368.2 1740.5 L368.3 1737.5 L368.3 1734.5 L368.4 1731.5 L368.4 1728.5 L368.5 1725.5 L368.6 1722.5 L368.6 1719.5 L368.7 1716.5 L368.7 1713.5 L368.8 1710.5 L368.9 1707.5 L368.9 1704.5 L369.0 1701.5 L369.1 1698.5 L369.1 1695.5 L369.2 1692.5 L369.2 1689.5 L369.3 1686.5 L369.4 1683.5 L369.4 1680.5 L369.5 1677.5 L369.6 1674.5 L369.7 1671.4 L369.7 1668.4 L369.8 1665.4 L369.9 1662.4 L370.0 1659.4 L370.0 1656.4 L370.1 1653.4 L370.2 1650.4 L370.3 1647.4 L370.4 1644.4 L370.5 1641.4 L370.6 1638.4 L370.7 1635.4 L370.8 1632.4 L370.9 1629.4 L371.0 1626.4 L371.1 1623.4 L371.2 1620.4 L371.3 1617.4 L371.5 1614.4 L371.6 1611.4 L371.7 1608.4 L371.9 1605.4 L372.0 1602.4 L372.2 1599.4 L372.4 1596.4 L372.6 1593.4 L372.8 1590.4 L373.0 1587.4 L373.2 1584.4 L373.4 1581.4 L373.7 1578.4 L374.0 1575.4 L374.3 1572.4 L374.6 1569.4 L375.0 1566.5 L375.4 1563.5 L375.8 1560.5 L376.3 1557.5 L376.8 1554.6 L377.3 1551.6 L377.9 1548.7 L378.6 1545.8 L379.2 1542.8 L379.9 1539.9 L380.6 1537.0 L381.2 1534.0 L381.8 1531.1 L382.4 1528.1 L382.9 1525.2 L383.4 1522.2 L384.0 1519.3 L384.5 1516.3 L385.1 1513.4 L385.6 1510.4 L386.2 1507.4 L386.9 1504.5 L387.5 1501.5 L388.2 1498.6 L389.0 1495.7 L389.9 1492.9 L391.0 1490.1 L392.2 1487.4 L393.7 1484.8 L395.4 1482.4 L397.5 1480.3 L399.7 1478.4 L402.2 1476.7 L404.8 1475.2 L407.4 1473.8 L410.1 1472.4 L412.9 1471.2 L415.7 1470.1 L418.5 1469.0 L421.3 1468.0 L424.2 1467.1 L427.0 1466.2 L429.9 1465.5 L432.9 1464.7 L435.8 1464.1 L438.7 1463.5 L441.7 1462.9 L444.7 1462.4 L447.6 1461.9 L450.6 1461.4 L453.6 1461.0 L456.6 1460.6 L459.6 1460.4 L462.6 1460.2 L465.6 1460.1 L468.6 1460.1 L471.6 1460.1 L474.6 1460.1 L477.6 1460.1 L480.6 1460.1 L483.6 1460.1 L486.6 1460.0 L489.6 1459.8 L492.6 1459.6 L495.6 1459.3 L498.5 1459.0 L501.5 1458.6 L504.5 1458.3 L507.5 1457.9 L510.5 1457.6 L513.5 1457.4 L516.5 1457.1 L519.5 1456.9 L522.5 1456.6 L525.5 1456.4 L528.5 1456.2 L531.5 1456.0 L534.5 1455.7 L537.5 1455.5 L540.5 1455.3 L543.5 1455.1 L546.4 1454.9 L549.4 1454.8 L552.4 1454.6 L555.5 1454.5 L558.5 1454.4 L561.5 1454.3 L564.5 1454.2 L567.5 1454.1 L570.5 1454.0 L573.5 1453.9 L576.5 1453.8 L579.5 1453.6 L582.5 1453.4 L585.5 1453.2 L588.4 1452.9 L591.4 1452.6 L594.4 1452.3 L597.4 1452.1 L600.4 1451.8 L603.4 1451.6 L606.4 1451.4 L609.4 1451.2 L612.4 1451.0 L615.4 1450.8 L618.4 1450.7 L621.4 1450.5 L624.4 1450.3 L627.4 1450.1 L630.4 1450.0 L633.4 1449.8 L636.4 1449.7 L639.4 1449.5 L642.4 1449.4 L645.4 1449.2 L648.4 1449.1 L651.4 1448.9 L654.4 1448.8 L657.4 1448.7 L660.4 1448.5 L663.4 1448.4 L666.4 1448.3 L669.4 1448.2 L672.4 1448.0 L675.4 1447.9 L678.4 1447.8 L681.4 1447.7 L684.4 1447.6 L687.4 1447.5 L690.4 1447.3 L693.4 1447.2 L696.4 1447.1 L699.4 1447.0 L702.5 1446.9 L705.5 1446.8 L708.5 1446.7 L711.5 1446.6 L714.5 1446.5 L717.5 1446.4 L720.5 1446.3 L723.5 1446.2 L726.5 1446.1 L729.5 1445.9 L732.5 1445.8 L735.5 1445.7 L738.5 1445.6 L741.5 1445.5 L744.5 1445.4 L747.5 1445.3 L750.5 1445.2 L753.5 1445.1 L756.5 1445.0 L759.5 1444.9 L762.5 1444.8 L765.5 1444.7 L768.5 1444.6 L771.5 1444.5 L774.5 1444.4 L777.5 1444.3 L780.5 1444.2 L783.5 1444.2 L786.5 1444.1 L789.5 1444.0 L792.5 1443.9 L795.5 1443.9 L798.6 1443.8 L801.6 1443.7 L804.6 1443.7 L807.6 1443.6 L810.6 1443.6 L813.6 1443.5 L816.6 1443.5 L819.6 1443.4 L822.6 1443.4 L825.6 1443.4 L828.6 1443.3 L831.6 1443.3 L834.6 1443.3 L837.6 1443.3 L840.6 1443.3 L843.6 1443.3 L846.6 1443.3 L849.6 1443.3 L852.6 1443.3 L855.6 1443.3 L858.6 1443.3 L861.6 1443.3 L864.6 1443.3 L867.6 1443.3 L870.6 1443.3 L873.6 1443.3 L876.7 1443.3 L879.7 1443.3 L882.7 1443.3 L885.7 1443.3 L888.7 1443.3 L891.7 1443.3 L894.7 1443.3 L897.7 1443.3 L900.7 1443.3 L903.7 1443.3 L906.7 1443.3 L909.7 1443.3 L912.7 1443.3 L915.7 1443.3 L918.7 1443.3 L921.7 1443.3 L924.7 1443.3 L927.7 1443.3 L930.7 1443.3 L933.7 1443.3 L936.7 1443.3 L939.7 1443.3 L942.8 1443.3 L945.8 1443.3 L948.8 1443.3 L951.8 1443.3 L954.8 1443.3 L957.8 1443.3 L960.8 1443.3 L963.8 1443.3 L966.8 1443.3 L969.8 1443.3 L972.8 1443.3 L975.8 1443.3 L978.8 1443.3 L981.8 1443.3 L984.8 1443.3 L987.8 1443.3 L990.8 1443.3 L993.8 1443.3 L996.8 1443.3 L999.8 1443.3 L1002.8 1443.3 L1005.8 1443.3 L1008.9 1443.3 L1011.9 1443.3 L1014.9 1443.3 L1017.9 1443.3 L1020.9 1443.3 L1023.9 1443.3 L1026.9 1443.3 L1029.9 1443.3 L1032.9 1443.3 L1035.9 1443.3 L1038.9 1443.3 L1041.9 1443.3 L1044.9 1443.3 L1047.9 1443.3 L1050.9 1443.3 L1053.9 1443.3 L1056.9 1443.3 L1059.9 1443.3 L1063.0 1443.3 L1066.0 1443.3 L1069.0 1443.3 L1072.0 1443.3 L1075.0 1443.3 L1078.0 1443.3 L1081.0 1443.3 L1084.0 1443.3 L1087.0 1443.3 L1090.0 1443.3 L1093.0 1443.3 L1096.0 1443.3 L1099.0 1443.3 L1102.0 1443.3 L1105.0 1443.3 L1108.0 1443.3 L1111.0 1443.3 L1114.0 1443.3 L1117.0 1443.4 L1120.0 1443.5 L1123.0 1443.7 L1126.0 1443.9 L1129.0 1444.1 L1132.0 1444.4 L1135.0 1444.6 L1138.0 1444.8 L1141.0 1445.0 L1144.0 1445.2 L1147.0 1445.4 L1150.0 1445.5 L1153.0 1445.7 L1156.0 1445.8 L1159.0 1446.0 L1162.0 1446.1 L1165.0 1446.3 L1168.0 1446.4 L1171.0 1446.5 L1174.0 1446.7 L1177.0 1446.8 L1180.0 1446.9 L1183.0 1447.0" fill="none" stroke="#009900" stroke-width="7.9" stroke-linejoin="round" stroke-dasharray="11.5 11.3" stroke-dashoffset="21.0"/>
<path d="M360.5 2113.0 L360.6 2110.0 L360.6 2107.0 L360.7 2104.0 L360.8 2101.0 L360.8 2098.0 L360.9 2095.0 L361.0 2092.0 L361.0 2089.0 L361.1 2086.0 L361.2 2083.0 L361.2 2080.0 L361.3 2077.0 L361.4 2074.0 L361.4 2071.0 L361.5 2067.9 L361.6 2064.9 L361.6 2061.9 L361.7 2058.9 L361.8 2055.9 L361.8 2052.9 L361.9 2049.9 L361.9 2046.9 L362.0 2043.9 L362.1 2040.9 L362.1 2037.9 L362.2 2034.9 L362.3 2031.9 L362.3 2028.9 L362.4 2025.9 L362.5 2022.9 L362.5 2019.9 L362.6 2016.9 L362.7 2013.9 L362.7 2010.9 L362.8 2007.9 L362.8 2004.9 L362.9 2001.9 L363.0 1998.9 L363.0 1995.9 L363.1 1992.9 L363.2 1989.9 L363.2 1986.9 L363.3 1983.9 L363.4 1980.8 L363.4 1977.8 L363.5 1974.8 L363.5 1971.8 L363.6 1968.8 L363.7 1965.8 L363.7 1962.8 L363.8 1959.8 L363.9 1956.8 L363.9 1953.8 L364.0 1950.8 L364.0 1947.8 L364.1 1944.8 L364.2 1941.8 L364.2 1938.8 L364.3 1935.8 L364.4 1932.8 L364.4 1929.8 L364.5 1926.8 L364.5 1923.8 L364.6 1920.8 L364.7 1917.8 L364.7 1914.8 L364.8 1911.8 L364.8 1908.8 L364.9 1905.8 L365.0 1902.8 L365.0 1899.8 L365.1 1896.8 L365.1 1893.7 L365.2 1890.7 L365.3 1887.7 L365.3 1884.7 L365.4 1881.7 L365.4 1878.7 L365.5 1875.7 L365.6 1872.7 L365.6 1869.7 L365.7 1866.7 L365.7 1863.7 L365.8 1860.7 L365.9 1857.7 L365.9 1854.7 L366.0 1851.7 L366.0 1848.7 L366.1 1845.7 L366.2 1842.7 L366.2 1839.7 L366.3 1836.7 L366.3 1833.7 L366.4 1830.7 L366.5 1827.7 L366.5 1824.7 L366.6 1821.7 L366.6 1818.7 L366.7 1815.7 L366.8 1812.7 L366.8 1809.6 L366.9 1806.6 L366.9 1803.6 L367.0 1800.6 L367.1 1797.6 L367.1 1794.6 L367.2 1791.6 L367.2 1788.6 L367.3 1785.6 L367.4 1782.6 L367.4 1779.6 L367.5 1776.6 L367.5 1773.6 L367.6 1770.6 L367.6 1767.6 L367.7 1764.6 L367.8 1761.6 L367.8 1758.6 L367.9 1755.6 L367.9 1752.6 L368.0 1749.6 L368.1 1746.6 L368.1 1743.6 L368.2 1740.6 L368.2 1737.6 L368.3 1734.6 L368.3 1731.6 L368.4 1728.5 L368.4 1725.5 L368.5 1722.5 L368.5 1719.5 L368.6 1716.5 L368.6 1713.5 L368.7 1710.5 L368.7 1707.5 L368.7 1704.5 L368.8 1701.5 L368.8 1698.5 L368.9 1695.5 L368.9 1692.5 L369.0 1689.5 L369.0 1686.5 L369.1 1683.5 L369.1 1680.5 L369.2 1677.5 L369.2 1674.5 L369.3 1671.5 L369.3 1668.5 L369.4 1665.5 L369.5 1662.4 L369.5 1659.4 L369.6 1656.4 L369.7 1653.4 L369.7 1650.4 L369.8 1647.4 L369.9 1644.4 L370.0 1641.4 L370.1 1638.4 L370.2 1635.4 L370.3 1632.4 L370.4 1629.4 L370.5 1626.4 L370.6 1623.4 L370.8 1620.4 L370.9 1617.4 L371.1 1614.4 L371.4 1611.4 L371.6 1608.4 L371.8 1605.4 L372.0 1602.4 L372.2 1599.5 L372.4 1596.5 L372.6 1593.5 L372.8 1590.5 L373.0 1587.5 L373.2 1584.5 L373.4 1581.5 L373.7 1578.5 L374.0 1575.5 L374.3 1572.5 L374.6 1569.5 L375.0 1566.5 L375.4 1563.5 L375.8 1560.6 L376.3 1557.6 L376.8 1554.6 L377.3 1551.7 L377.9 1548.8 L378.6 1545.8 L379.3 1542.9 L380.0 1540.0 L380.7 1537.1 L381.3 1534.1 L381.9 1531.2 L382.5 1528.2 L383.0 1525.3 L383.5 1522.3 L384.1 1519.4 L384.6 1516.4 L385.2 1513.4 L385.7 1510.5 L386.3 1507.5 L386.9 1504.6 L387.6 1501.7 L388.2 1498.7 L388.9 1495.8 L389.7 1492.9 L390.5 1490.0 L391.5 1487.2 L392.5 1484.3 L393.5 1481.5 L394.7 1478.7 L395.9 1476.0 L397.1 1473.3 L398.5 1470.5 L399.8 1467.9 L401.3 1465.2 L402.8 1462.5 L404.4 1460.0 L406.0 1457.5 L407.8 1455.1 L409.7 1452.8 L411.7 1450.6 L413.8 1448.5 L416.1 1446.5 L418.4 1444.6 L420.9 1442.8 L423.4 1441.2 L426.0 1439.7 L428.7 1438.4 L431.4 1437.3 L434.2 1436.3 L437.1 1435.4 L440.0 1434.5 L442.9 1433.8 L445.9 1433.0 L448.8 1432.3 L451.7 1431.6 L454.7 1430.9 L457.6 1430.2 L460.6 1429.7 L463.5 1429.2 L466.5 1428.7 L469.5 1428.4 L472.4 1428.2 L475.4 1428.0 L478.4 1427.8 L481.4 1427.6 L484.4 1427.4 L487.4 1427.3 L490.4 1427.1 L493.4 1426.8 L496.4 1426.6 L499.4 1426.3 L502.4 1426.0 L505.4 1425.6 L508.4 1425.3 L511.4 1424.9 L514.3 1424.5 L517.3 1424.1 L520.3 1423.7 L523.3 1423.2 L526.2 1422.8 L529.2 1422.4 L532.2 1422.0 L535.2 1421.6 L538.2 1421.3 L541.1 1421.1 L544.1 1420.8 L547.1 1420.6 L550.1 1420.4 L553.1 1420.2 L556.1 1420.0 L559.1 1419.9 L562.1 1419.8 L565.1 1419.6 L568.1 1419.5 L571.1 1419.4 L574.1 1419.3 L577.1 1419.2 L580.1 1419.1 L583.1 1418.9 L586.1 1418.7 L589.1 1418.4 L592.1 1418.2 L595.1 1417.9 L598.1 1417.7 L601.1 1417.5 L604.1 1417.4 L607.1 1417.2 L610.1 1417.1 L613.1 1417.0 L616.1 1416.9 L619.1 1416.8 L622.1 1416.7 L625.1 1416.6 L628.1 1416.5 L631.1 1416.4 L634.1 1416.4 L637.1 1416.3 L640.1 1416.2 L643.1 1416.1 L646.1 1416.1 L649.1 1416.0 L652.2 1415.9 L655.2 1415.9 L658.2 1415.8 L661.2 1415.8 L664.2 1415.7 L667.2 1415.6 L670.2 1415.6 L673.2 1415.5 L676.2 1415.4 L679.2 1415.4 L682.2 1415.3 L685.2 1415.2 L688.2 1415.1 L691.2 1415.1 L694.2 1415.0 L697.2 1414.9 L700.2 1414.8 L703.2 1414.7 L706.2 1414.6 L709.2 1414.5 L712.2 1414.3 L715.2 1414.2 L718.2 1414.1 L721.2 1414.0 L724.2 1413.8 L727.2 1413.7 L730.2 1413.5 L733.2 1413.4 L736.2 1413.2 L739.2 1413.1 L742.2 1412.9 L745.2 1412.7 L748.2 1412.6 L751.2 1412.4 L754.2 1412.2 L757.2 1412.1 L760.2 1411.9 L763.2 1411.8 L766.3 1411.6 L769.3 1411.4 L772.3 1411.3 L775.3 1411.1 L778.3 1411.0 L781.3 1410.8 L784.3 1410.7 L787.3 1410.5 L790.3 1410.4 L793.3 1410.2 L796.3 1410.1 L799.3 1410.0 L802.3 1409.9 L805.3 1409.8 L808.3 1409.6 L811.3 1409.5 L814.3 1409.5 L817.3 1409.4 L820.3 1409.3 L823.3 1409.2 L826.3 1409.2 L829.3 1409.1 L832.3 1409.1 L835.3 1409.0 L838.3 1409.0 L841.3 1409.0 L844.3 1409.0 L847.3 1409.0 L850.3 1409.0 L853.3 1409.0 L856.3 1409.0 L859.3 1408.9 L862.3 1408.9 L865.3 1408.9 L868.3 1408.9 L871.3 1408.9 L874.3 1408.9 L877.3 1408.9 L880.3 1408.9 L883.3 1408.9 L886.4 1408.9 L889.4 1408.9 L892.4 1408.9 L895.4 1408.9 L898.4 1408.9 L901.4 1408.9 L904.4 1408.9 L907.4 1408.9 L910.4 1408.8 L913.4 1408.8 L916.4 1408.8 L919.4 1408.8 L922.4 1408.8 L925.4 1408.8 L928.4 1408.8 L931.4 1408.8 L934.4 1408.8 L937.4 1408.8 L940.4 1408.8 L943.4 1408.8 L946.4 1408.8 L949.4 1408.8 L952.5 1408.8 L955.5 1408.8 L958.5 1408.8 L961.5 1408.8 L964.5 1408.8 L967.5 1408.8 L970.5 1408.8 L973.5 1408.8 L976.5 1408.8 L979.5 1408.8 L982.5 1408.9 L985.5 1408.9 L988.5 1408.9 L991.5 1409.0 L994.5 1409.1 L997.5 1409.1 L1000.5 1409.2 L1003.5 1409.3 L1006.5 1409.4 L1009.5 1409.6 L1012.5 1409.7 L1015.5 1409.8 L1018.5 1410.0 L1021.5 1410.1 L1024.5 1410.2 L1027.5 1410.4 L1030.5 1410.6 L1033.5 1410.7 L1036.5 1410.9 L1039.5 1411.0 L1042.5 1411.2 L1045.5 1411.4 L1048.5 1411.5 L1051.5 1411.7 L1054.5 1411.8 L1057.5 1412.0 L1060.5 1412.1 L1063.5 1412.3 L1066.5 1412.4 L1069.5 1412.6 L1072.5 1412.7 L1075.5 1412.8 L1078.5 1413.0 L1081.5 1413.1 L1084.6 1413.2 L1087.6 1413.3 L1090.6 1413.5 L1093.6 1413.6 L1096.6 1413.7 L1099.6 1413.9 L1102.6 1414.0 L1105.6 1414.1 L1108.6 1414.3 L1111.6 1414.5 L1114.6 1414.6 L1117.6 1414.8 L1120.6 1415.0 L1123.6 1415.2 L1126.6 1415.4 L1129.6 1415.6 L1132.6 1415.8 L1135.6 1416.1 L1138.6 1416.4 L1141.6 1416.7 L1144.6 1417.1 L1147.6 1417.6 L1150.5 1418.2 L1153.3 1419.0 L1156.0 1420.1 L1158.6 1421.5 L1161.1 1423.1 L1162.3 1424.0" fill="none" stroke="#0044ff" stroke-width="7.9" stroke-linejoin="round" stroke-dasharray="11.5 11.3" stroke-dashoffset="19.5"/>
<path d="M360.5 2113.0 L360.6 2110.0 L360.6 2107.0 L360.7 2104.0 L360.8 2101.0 L360.8 2098.0 L360.9 2095.0 L361.0 2092.0 L361.0 2089.0 L361.1 2086.0 L361.2 2083.0 L361.2 2080.0 L361.3 2077.0 L361.4 2074.0 L361.4 2071.0 L361.5 2067.9 L361.6 2064.9 L361.6 2061.9 L361.7 2058.9 L361.8 2055.9 L361.8 2052.9 L361.9 2049.9 L361.9 2046.9 L362.0 2043.9 L362.1 2040.9 L362.1 2037.9 L362.2 2034.9 L362.3 2031.9 L362.3 2028.9 L362.4 2025.9 L362.5 2022.9 L362.5 2019.9 L362.6 2016.9 L362.7 2013.9 L362.7 2010.9 L362.8 2007.9 L362.8 2004.9 L362.9 2001.9 L363.0 1998.9 L363.0 1995.9 L363.1 1992.9 L363.2 1989.9 L363.2 1986.9 L363.3 1983.8 L363.4 1980.8 L363.4 1977.8 L363.5 1974.8 L363.5 1971.8 L363.6 1968.8 L363.7 1965.8 L363.7 1962.8 L363.8 1959.8 L363.9 1956.8 L363.9 1953.8 L364.0 1950.8 L364.0 1947.8 L364.1 1944.8 L364.2 1941.8 L364.2 1938.8 L364.3 1935.8 L364.4 1932.8 L364.4 1929.8 L364.5 1926.8 L364.5 1923.8 L364.6 1920.8 L364.7 1917.8 L364.7 1914.8 L364.8 1911.8 L364.8 1908.8 L364.9 1905.8 L365.0 1902.8 L365.0 1899.7 L365.1 1896.7 L365.1 1893.7 L365.2 1890.7 L365.2 1887.7 L365.3 1884.7 L365.4 1881.7 L365.4 1878.7 L365.5 1875.7 L365.5 1872.7 L365.6 1869.7 L365.7 1866.7 L365.7 1863.7 L365.8 1860.7 L365.8 1857.7 L365.9 1854.7 L365.9 1851.7 L366.0 1848.7 L366.1 1845.7 L366.1 1842.7 L366.2 1839.7 L366.2 1836.7 L366.3 1833.7 L366.4 1830.7 L366.4 1827.7 L366.5 1824.7 L366.5 1821.7 L366.6 1818.6 L366.7 1815.6 L366.7 1812.6 L366.8 1809.6 L366.8 1806.6 L366.9 1803.6 L366.9 1800.6 L367.0 1797.6 L367.1 1794.6 L367.1 1791.6 L367.2 1788.6 L367.3 1785.6 L367.3 1782.6 L367.4 1779.6 L367.4 1776.6 L367.5 1773.6 L367.6 1770.6 L367.6 1767.6 L367.7 1764.6 L367.8 1761.6 L367.8 1758.6 L367.9 1755.6 L367.9 1752.6 L368.0 1749.6 L368.1 1746.6 L368.1 1743.6 L368.2 1740.6 L368.3 1737.6 L368.3 1734.5 L368.4 1731.5 L368.5 1728.5 L368.5 1725.5 L368.6 1722.5 L368.6 1719.5 L368.7 1716.5 L368.8 1713.5 L368.8 1710.5 L368.9 1707.5 L369.0 1704.5 L369.0 1701.5 L369.1 1698.5 L369.2 1695.5 L369.2 1692.5 L369.3 1689.5 L369.4 1686.5 L369.4 1683.5 L369.5 1680.5 L369.6 1677.5 L369.6 1674.5 L369.7 1671.5 L369.8 1668.5 L369.9 1665.5 L369.9 1662.5 L370.0 1659.5 L370.1 1656.5 L370.2 1653.5 L370.3 1650.5 L370.3 1647.5 L370.4 1644.4 L370.5 1641.4 L370.6 1638.4 L370.7 1635.4 L370.8 1632.4 L370.9 1629.4 L371.0 1626.4 L371.1 1623.4 L371.2 1620.4 L371.3 1617.4 L371.4 1614.4 L371.5 1611.4 L371.6 1608.4 L371.7 1605.4 L371.9 1602.4 L372.0 1599.4 L372.1 1596.4 L372.3 1593.4 L372.5 1590.4 L372.7 1587.4 L372.9 1584.4 L373.2 1581.4 L373.4 1578.4 L373.6 1575.4 L373.8 1572.4 L374.0 1569.4 L374.2 1566.4 L374.4 1563.4 L374.6 1560.4 L374.8 1557.4 L375.1 1554.5 L375.4 1551.5 L375.7 1548.5 L376.1 1545.5 L376.6 1542.5 L377.0 1539.6 L377.5 1536.6 L377.9 1533.6 L378.4 1530.7 L378.8 1527.7 L379.2 1524.7 L379.5 1521.7 L379.9 1518.7 L380.2 1515.7 L380.4 1512.7 L380.6 1509.7 L380.8 1506.7 L380.9 1503.7 L381.0 1500.7 L381.1 1497.7 L381.1 1494.7 L381.2 1491.7 L381.4 1488.7 L381.6 1485.7 L381.9 1482.8 L382.4 1479.8 L383.0 1476.9 L383.7 1474.0 L384.4 1471.1 L385.2 1468.1 L385.9 1465.2 L386.6 1462.3 L387.2 1459.3 L387.7 1456.4 L388.3 1453.4 L388.8 1450.5 L389.4 1447.5 L390.0 1444.6 L390.8 1441.7 L391.5 1438.8 L392.4 1435.9 L393.3 1433.0 L394.2 1430.2 L395.2 1427.3 L396.2 1424.5 L397.3 1421.7 L398.4 1418.9 L399.5 1416.0 L400.7 1413.2 L401.9 1410.5 L403.2 1407.8 L404.6 1405.1 L406.1 1402.5 L407.7 1400.0 L409.4 1397.6 L411.3 1395.2 L413.3 1392.9 L415.4 1390.7 L417.6 1388.7 L419.9 1386.8 L422.3 1385.2 L424.8 1383.7 L427.5 1382.3 L430.2 1381.1 L433.0 1380.0 L435.9 1378.9 L438.7 1377.9 L441.6 1377.0 L444.5 1376.1 L447.4 1375.3 L450.3 1374.6 L453.3 1373.9 L456.2 1373.2 L459.1 1372.6 L462.1 1371.9 L465.0 1371.4 L468.0 1370.8 L470.9 1370.2 L473.9 1369.7 L476.8 1369.2 L479.8 1368.7 L482.8 1368.2 L485.8 1367.8 L488.7 1367.4 L491.7 1367.1 L494.7 1366.7 L497.7 1366.4 L500.7 1366.1 L503.7 1365.8 L506.7 1365.6 L509.7 1365.4 L512.7 1365.3 L515.7 1365.1 L518.7 1365.0 L521.7 1364.8 L524.7 1364.7 L527.7 1364.6 L530.7 1364.4 L533.7 1364.2 L536.7 1363.9 L539.7 1363.7 L542.6 1363.4 L545.6 1363.0 L548.6 1362.7 L551.6 1362.3 L554.6 1362.0 L557.6 1361.7 L560.6 1361.3 L563.6 1361.1 L566.6 1360.8 L569.5 1360.6 L572.5 1360.4 L575.5 1360.3 L578.5 1360.2 L581.5 1360.1 L584.5 1360.0 L587.5 1359.9 L590.5 1359.8 L593.6 1359.8 L596.6 1359.7 L599.6 1359.7 L602.6 1359.6 L605.6 1359.5 L608.6 1359.5 L611.6 1359.4 L614.6 1359.3 L617.6 1359.3 L620.6 1359.2 L623.6 1359.1 L626.6 1359.1 L629.6 1359.0 L632.6 1358.9 L635.6 1358.9 L638.6 1358.8 L641.6 1358.7 L644.6 1358.6 L647.6 1358.6 L650.6 1358.5 L653.6 1358.4 L656.6 1358.4 L659.6 1358.3 L662.6 1358.2 L665.6 1358.2 L668.6 1358.1 L671.7 1358.0 L674.7 1358.0 L677.7 1357.9 L680.7 1357.9 L683.7 1357.8 L686.7 1357.8 L689.7 1357.7 L692.7 1357.7 L695.7 1357.6 L698.7 1357.6 L701.7 1357.5 L704.7 1357.5 L707.7 1357.5 L710.7 1357.4 L713.7 1357.4 L716.7 1357.4 L719.7 1357.4 L722.7 1357.3 L725.7 1357.3 L728.7 1357.3 L731.7 1357.3 L734.7 1357.3 L737.7 1357.3 L740.7 1357.3 L743.7 1357.3 L746.8 1357.3 L749.8 1357.3 L752.8 1357.3 L755.8 1357.3 L758.8 1357.3 L761.8 1357.3 L764.8 1357.3 L767.8 1357.3 L770.8 1357.3 L773.8 1357.3 L776.8 1357.3 L779.8 1357.3 L782.8 1357.3 L785.8 1357.3 L788.8 1357.3 L791.8 1357.3 L794.8 1357.3 L797.8 1357.3 L800.8 1357.3 L803.8 1357.3 L806.8 1357.3 L809.8 1357.3 L812.9 1357.3 L815.9 1357.3 L818.9 1357.3 L821.9 1357.3 L824.9 1357.3 L827.9 1357.3 L830.9 1357.3 L833.9 1357.3 L836.9 1357.3 L839.9 1357.3 L842.9 1357.3 L845.9 1357.3 L848.9 1357.3 L851.9 1357.3 L854.9 1357.3 L857.9 1357.3 L860.9 1357.3 L863.9 1357.3 L866.9 1357.3 L869.9 1357.3 L872.9 1357.3 L876.0 1357.3 L879.0 1357.3 L882.0 1357.3 L885.0 1357.3 L888.0 1357.3 L891.0 1357.3 L894.0 1357.3 L897.0 1357.3 L900.0 1357.3 L903.0 1357.3 L906.0 1357.3 L909.0 1357.3 L912.0 1357.3 L915.0 1357.3 L918.0 1357.3 L921.0 1357.3 L924.0 1357.3 L927.0 1357.3 L930.0 1357.3 L933.0 1357.3 L936.0 1357.4 L939.0 1357.4 L942.0 1357.4 L945.0 1357.5 L948.0 1357.6 L951.0 1357.7 L954.0 1357.8 L957.0 1357.9 L960.0 1358.0 L963.0 1358.2 L966.0 1358.3 L969.0 1358.4 L972.0 1358.6 L975.0 1358.8 L978.0 1358.9 L981.0 1359.1 L984.0 1359.3 L987.0 1359.5 L990.0 1359.7 L993.0 1359.9 L996.0 1360.1 L999.0 1360.3 L1002.0 1360.5 L1005.0 1360.7 L1008.0 1360.9 L1011.0 1361.1 L1014.0 1361.4 L1017.0 1361.6 L1020.0 1361.8 L1023.0 1362.0 L1026.0 1362.2 L1029.0 1362.4 L1032.0 1362.7 L1035.0 1362.9 L1038.0 1363.2 L1041.0 1363.5 L1044.0 1363.8 L1047.0 1364.1 L1049.9 1364.4 L1052.9 1364.7 L1055.9 1365.0 L1058.9 1365.3 L1061.9 1365.7 L1064.9 1366.0 L1067.9 1366.3 L1070.9 1366.6 L1073.8 1367.0 L1076.8 1367.3 L1079.8 1367.6 L1082.8 1367.9 L1085.8 1368.3 L1088.8 1368.6 L1091.8 1368.9 L1094.8 1369.2 L1097.8 1369.5 L1100.7 1369.8 L1103.7 1370.1 L1106.7 1370.4 L1109.7 1370.7 L1112.7 1371.0 L1115.7 1371.3 L1118.7 1371.6 L1121.7 1371.9 L1124.7 1372.2 L1127.6 1372.5 L1130.6 1372.8 L1133.6 1373.1 L1136.6 1373.4 L1139.6 1373.7 L1142.6 1374.0 L1145.6 1374.3 L1148.6 1374.6 L1151.6 1374.9 L1154.5 1375.2 L1157.5 1375.5 L1160.5 1375.8 L1163.5 1376.1 L1166.5 1376.4 L1168.0 1376.5" fill="none" stroke="#000000" stroke-width="7.9" stroke-linejoin="round" stroke-dasharray="11.5 11.3" stroke-dashoffset="4.8"/>
<path d="M362.0 2113.0 L362.1 2110.0 L362.3 2107.0 L362.4 2104.0 L362.6 2101.0 L362.7 2098.0 L362.9 2095.0 L363.0 2092.0 L363.2 2089.0 L363.3 2086.0 L363.5 2083.0 L363.6 2080.0 L363.7 2077.0 L363.9 2074.0 L364.0 2071.0 L364.2 2068.0 L364.3 2065.0 L364.5 2062.0 L364.6 2059.0 L364.8 2056.0 L364.9 2052.9 L365.0 2049.9 L365.2 2046.9 L365.3 2043.9 L365.5 2040.9 L365.6 2037.9 L365.7 2034.9 L365.9 2031.9 L366.0 2028.9 L366.2 2025.9 L366.3 2022.9 L366.4 2019.9 L366.6 2016.9 L366.7 2013.9 L366.9 2010.9 L367.0 2007.9 L367.1 2004.9 L367.3 2001.9 L367.4 1998.9 L367.5 1995.9 L367.7 1992.9 L367.8 1989.9 L368.0 1986.9 L368.1 1983.9 L368.2 1980.9 L368.4 1977.9 L368.5 1974.9 L368.6 1971.9 L368.8 1968.9 L368.9 1965.9 L369.0 1962.9 L369.2 1959.9 L369.3 1956.9 L369.4 1953.9 L369.6 1950.8 L369.7 1947.8 L369.8 1944.8 L370.0 1941.8 L370.1 1938.8 L370.2 1935.8 L370.4 1932.8 L370.5 1929.8 L370.6 1926.8 L370.7 1923.8 L370.9 1920.8 L371.0 1917.8 L371.1 1914.8 L371.3 1911.8 L371.4 1908.8 L371.5 1905.8 L371.6 1902.8 L371.8 1899.8 L371.9 1896.8 L372.0 1893.8 L372.1 1890.8 L372.3 1887.8 L372.4 1884.8 L372.5 1881.8 L372.6 1878.8 L372.8 1875.8 L372.9 1872.8 L373.0 1869.7 L373.1 1866.7 L373.2 1863.7 L373.3 1860.7 L373.4 1857.7 L373.5 1854.7 L373.6 1851.7 L373.7 1848.6 L373.8 1845.6 L373.9 1842.6 L374.0 1839.6 L374.0 1836.6 L374.1 1833.5 L374.2 1830.5 L374.3 1827.5 L374.4 1824.5 L374.4 1821.4 L374.5 1818.4 L374.6 1815.4 L374.6 1812.4 L374.7 1809.3 L374.8 1806.3 L374.9 1803.3 L374.9 1800.3 L375.0 1797.2 L375.1 1794.2 L375.1 1791.2 L375.2 1788.1 L375.3 1785.1 L375.3 1782.1 L375.4 1779.1 L375.5 1776.0 L375.5 1773.0 L375.6 1770.0 L375.7 1767.0 L375.8 1763.9 L375.8 1760.9 L375.9 1757.9 L376.0 1754.9 L376.1 1751.9 L376.1 1748.8 L376.2 1745.8 L376.3 1742.8 L376.4 1739.8 L376.5 1736.8 L376.6 1733.8 L376.7 1730.8 L376.8 1727.7 L376.9 1724.7 L377.0 1721.7 L377.1 1718.7 L377.2 1715.7 L377.3 1712.7 L377.5 1709.7 L377.6 1706.7 L377.7 1703.7 L377.9 1700.7 L378.0 1697.7 L378.1 1694.8 L378.3 1691.8 L378.4 1688.8 L378.6 1685.8 L378.8 1682.8 L378.9 1679.9 L379.1 1676.9 L379.3 1673.9 L379.5 1670.9 L379.7 1668.0 L379.9 1665.0 L380.1 1662.1 L380.3 1659.1 L380.5 1656.1 L380.7 1653.2 L381.0 1650.3 L381.2 1647.3 L381.5 1644.4 L381.8 1641.4 L382.2 1638.5 L382.8 1635.5 L383.5 1632.6 L384.4 1629.8 L385.5 1627.0 L386.7 1624.3 L388.2 1621.6 L389.7 1619.1 L391.3 1616.5 L392.9 1613.9 L394.5 1611.3 L396.1 1608.7 L397.7 1606.2 L399.3 1603.7 L401.1 1601.3 L403.0 1599.0 L404.9 1596.9 L407.1 1594.8 L409.3 1592.7 L411.6 1590.8 L413.9 1588.8 L416.3 1587.0 L418.8 1585.2 L421.2 1583.4 L423.7 1581.7 L426.2 1580.0 L428.7 1578.4 L431.3 1576.8 L433.8 1575.2 L436.5 1573.7 L439.1 1572.3 L441.8 1570.9 L444.5 1569.7 L447.2 1568.4 L450.0 1567.3 L452.7 1566.1 L455.6 1565.1 L458.4 1564.0 L461.2 1563.0 L464.1 1562.1 L467.0 1561.2 L469.9 1560.3 L472.8 1559.5 L475.7 1558.7 L478.6 1557.9 L481.5 1557.2 L484.4 1556.5 L487.3 1555.9 L490.3 1555.3 L493.2 1554.7 L496.2 1554.1 L499.1 1553.5 L502.1 1553.0 L505.1 1552.5 L508.0 1552.0 L511.0 1551.5 L514.0 1551.0 L516.9 1550.5 L519.9 1550.0 L522.9 1549.6 L525.9 1549.1 L528.8 1548.7 L531.8 1548.3 L534.8 1548.0 L537.8 1547.7 L540.8 1547.4 L543.8 1547.1 L546.8 1546.9 L549.8 1546.7 L552.8 1546.4 L555.8 1546.2 L558.8 1546.0 L561.8 1545.9 L564.8 1545.7 L567.8 1545.5 L570.8 1545.3 L573.8 1545.2 L576.8 1545.0 L579.8 1544.8 L582.8 1544.6 L585.8 1544.5 L588.8 1544.3 L591.8 1544.1 L594.8 1544.0 L597.8 1543.8 L600.8 1543.6 L603.8 1543.5 L606.8 1543.3 L609.8 1543.1 L612.8 1543.0 L615.8 1542.8 L618.8 1542.7 L621.8 1542.5 L624.8 1542.4 L627.8 1542.2 L630.8 1542.1 L633.8 1542.0 L636.8 1541.8 L639.8 1541.7 L642.8 1541.5 L645.8 1541.4 L648.8 1541.3 L651.8 1541.2 L654.8 1541.0 L657.8 1540.9 L660.8 1540.8 L663.8 1540.7 L666.8 1540.5 L669.9 1540.4 L672.9 1540.3 L675.9 1540.2 L678.9 1540.1 L681.9 1540.0 L684.9 1539.9 L687.9 1539.8 L690.9 1539.7 L693.9 1539.6 L696.9 1539.5 L699.9 1539.4 L702.9 1539.3 L705.9 1539.2 L708.9 1539.1 L711.9 1539.0 L714.9 1538.9 L717.9 1538.8 L720.9 1538.7 L723.9 1538.6 L726.9 1538.5 L729.9 1538.4 L732.9 1538.3 L736.0 1538.2 L739.0 1538.2 L742.0 1538.1 L745.0 1538.0 L748.0 1537.9 L751.0 1537.8 L754.0 1537.7 L757.0 1537.7 L760.0 1537.6 L763.0 1537.5 L766.0 1537.5 L769.0 1537.4 L772.0 1537.3 L775.0 1537.3 L778.0 1537.2 L781.0 1537.1 L784.0 1537.1 L787.0 1537.0 L790.0 1537.0 L793.1 1536.9 L796.1 1536.9 L799.1 1536.8 L802.1 1536.8 L805.1 1536.7 L808.1 1536.7 L811.1 1536.6 L814.1 1536.5 L817.1 1536.5 L820.1 1536.4 L823.1 1536.4 L826.1 1536.3 L829.1 1536.3 L832.1 1536.2 L835.1 1536.2 L838.1 1536.1 L841.1 1536.1 L844.1 1536.1 L847.2 1536.0 L850.2 1536.0 L853.2 1535.9 L856.2 1535.9 L859.2 1535.8 L862.2 1535.8 L865.2 1535.8 L868.2 1535.7 L871.2 1535.7 L874.2 1535.7 L877.2 1535.6 L880.2 1535.6 L883.2 1535.6 L886.2 1535.6 L889.2 1535.5 L892.2 1535.5 L895.2 1535.5 L898.3 1535.5 L901.3 1535.5 L904.3 1535.4 L907.3 1535.4 L910.3 1535.4 L913.3 1535.4 L916.3 1535.4 L919.3 1535.4 L922.3 1535.4 L925.3 1535.4 L928.3 1535.4 L931.3 1535.4 L934.3 1535.4 L937.3 1535.4 L940.3 1535.4 L943.3 1535.4 L946.3 1535.4 L949.4 1535.4 L952.4 1535.4 L955.4 1535.3 L958.4 1535.3 L961.4 1535.3 L964.4 1535.3 L967.4 1535.3 L970.4 1535.3 L973.4 1535.3 L976.4 1535.3 L979.4 1535.3 L982.4 1535.3 L985.4 1535.3 L988.4 1535.3 L991.4 1535.3 L994.4 1535.3 L997.5 1535.3 L1000.5 1535.3 L1003.5 1535.3 L1006.5 1535.3 L1009.5 1535.3 L1012.5 1535.3 L1015.5 1535.3 L1018.5 1535.3 L1021.5 1535.3 L1024.5 1535.3 L1027.5 1535.3 L1030.5 1535.3 L1033.5 1535.3 L1036.5 1535.3 L1039.5 1535.3 L1042.5 1535.3 L1045.5 1535.3 L1048.6 1535.3 L1051.6 1535.3 L1054.6 1535.3 L1057.6 1535.3 L1060.6 1535.3 L1063.6 1535.2 L1066.6 1535.2 L1069.6 1535.2 L1072.6 1535.2 L1075.6 1535.2 L1078.6 1535.2 L1081.6 1535.2 L1084.6 1535.2 L1087.6 1535.2 L1090.6 1535.2 L1093.6 1535.2 L1096.7 1535.2 L1099.7 1535.2 L1102.7 1535.2 L1105.7 1535.2 L1108.7 1535.2 L1111.7 1535.2 L1114.7 1535.2 L1117.7 1535.2 L1120.7 1535.2 L1123.7 1535.2 L1126.7 1535.2 L1129.7 1535.2 L1132.7 1535.2 L1135.7 1535.2 L1138.7 1535.2 L1141.7 1535.2 L1144.7 1535.2 L1147.8 1535.2 L1150.8 1535.2 L1153.8 1535.2 L1156.8 1535.2 L1159.8 1535.2 L1162.8 1535.2 L1165.8 1535.2 L1168.8 1535.2 L1171.8 1535.2 L1174.8 1535.2 L1177.8 1535.2 L1180.8 1535.2 L1183.8 1535.2 L1186.8 1535.2 L1189.8 1535.2 L1192.8 1535.2 L1195.9 1535.2 L1198.9 1535.2 L1201.9 1535.2 L1204.9 1535.2 L1207.9 1535.2 L1210.9 1535.2 L1213.9 1535.2 L1216.9 1535.2 L1218.4 1535.2" fill="none" stroke="#ff0000" stroke-width="7.9" stroke-linejoin="round"/>
<path d="M362.0 2113.0 L362.1 2110.0 L362.3 2107.0 L362.4 2104.0 L362.6 2101.0 L362.7 2098.0 L362.9 2095.0 L363.0 2092.0 L363.2 2089.0 L363.3 2086.0 L363.5 2083.0 L363.6 2080.0 L363.7 2077.0 L363.9 2074.0 L364.0 2071.0 L364.2 2068.0 L364.3 2065.0 L364.5 2062.0 L364.6 2059.0 L364.8 2055.9 L364.9 2052.9 L365.0 2049.9 L365.2 2046.9 L365.3 2043.9 L365.5 2040.9 L365.6 2037.9 L365.7 2034.9 L365.9 2031.9 L366.0 2028.9 L366.2 2025.9 L366.3 2022.9 L366.4 2019.9 L366.6 2016.9 L366.7 2013.9 L366.9 2010.9 L367.0 2007.9 L367.1 2004.9 L367.3 2001.9 L367.4 1998.9 L367.5 1995.9 L367.7 1992.9 L367.8 1989.9 L368.0 1986.9 L368.1 1983.9 L368.2 1980.9 L368.4 1977.9 L368.5 1974.9 L368.6 1971.9 L368.8 1968.9 L368.9 1965.9 L369.0 1962.9 L369.2 1959.8 L369.3 1956.8 L369.4 1953.8 L369.6 1950.8 L369.7 1947.8 L369.8 1944.8 L370.0 1941.8 L370.1 1938.8 L370.2 1935.8 L370.4 1932.8 L370.5 1929.8 L370.6 1926.8 L370.7 1923.8 L370.9 1920.8 L371.0 1917.8 L371.1 1914.8 L371.3 1911.8 L371.4 1908.8 L371.5 1905.8 L371.6 1902.8 L371.8 1899.8 L371.9 1896.8 L372.0 1893.8 L372.1 1890.8 L372.3 1887.8 L372.4 1884.8 L372.5 1881.8 L372.6 1878.8 L372.8 1875.7 L372.9 1872.7 L373.0 1869.7 L373.1 1866.7 L373.2 1863.7 L373.3 1860.7 L373.4 1857.7 L373.5 1854.7 L373.6 1851.7 L373.7 1848.6 L373.8 1845.6 L373.9 1842.6 L374.0 1839.6 L374.0 1836.6 L374.1 1833.5 L374.2 1830.5 L374.3 1827.5 L374.4 1824.5 L374.4 1821.4 L374.5 1818.4 L374.6 1815.4 L374.6 1812.3 L374.7 1809.3 L374.8 1806.3 L374.9 1803.3 L374.9 1800.2 L375.0 1797.2 L375.1 1794.2 L375.1 1791.2 L375.2 1788.1 L375.3 1785.1 L375.3 1782.1 L375.4 1779.0 L375.5 1776.0 L375.5 1773.0 L375.6 1770.0 L375.7 1766.9 L375.8 1763.9 L375.8 1760.9 L375.9 1757.9 L376.0 1754.9 L376.1 1751.8 L376.1 1748.8 L376.2 1745.8 L376.3 1742.8 L376.4 1739.8 L376.5 1736.8 L376.6 1733.7 L376.7 1730.7 L376.8 1727.7 L376.9 1724.7 L377.0 1721.7 L377.1 1718.7 L377.2 1715.7 L377.3 1712.7 L377.5 1709.7 L377.6 1706.7 L377.7 1703.7 L377.9 1700.7 L378.0 1697.7 L378.1 1694.7 L378.3 1691.8 L378.4 1688.8 L378.6 1685.8 L378.8 1682.8 L378.9 1679.8 L379.1 1676.9 L379.3 1673.9 L379.5 1670.9 L379.7 1668.0 L379.9 1665.0 L380.1 1662.0 L380.3 1659.1 L380.5 1656.1 L380.7 1653.2 L381.0 1650.2 L381.2 1647.3 L381.5 1644.3 L381.8 1641.4 L382.2 1638.5 L382.8 1635.6 L383.6 1632.7 L384.4 1629.8 L385.4 1626.9 L386.5 1624.1 L387.6 1621.3 L388.8 1618.6 L390.1 1615.8 L391.3 1613.1 L392.6 1610.3 L393.8 1607.5 L395.0 1604.7 L396.2 1602.0 L397.5 1599.2 L398.8 1596.5 L400.2 1593.9 L401.6 1591.4 L403.3 1588.9 L405.0 1586.5 L406.8 1584.2 L408.8 1581.9 L410.9 1579.7 L413.0 1577.5 L415.2 1575.3 L417.4 1573.3 L419.6 1571.2 L421.8 1569.2 L424.1 1567.3 L426.4 1565.3 L428.8 1563.4 L431.2 1561.6 L433.6 1559.8 L436.1 1558.0 L438.6 1556.3 L441.1 1554.7 L443.6 1553.2 L446.2 1551.7 L448.8 1550.3 L451.5 1548.9 L454.2 1547.6 L456.9 1546.3 L459.7 1545.1 L462.4 1543.9 L465.2 1542.7 L468.0 1541.5 L470.8 1540.4 L473.6 1539.3 L476.4 1538.2 L479.2 1537.1 L482.0 1536.0 L484.8 1535.0 L487.7 1533.9 L490.5 1532.9 L493.3 1531.9 L496.2 1531.0 L499.1 1530.0 L501.9 1529.1 L504.8 1528.2 L507.7 1527.3 L510.5 1526.5 L513.4 1525.7 L516.3 1524.9 L519.2 1524.1 L522.1 1523.3 L525.1 1522.6 L528.0 1521.9 L530.9 1521.2 L533.9 1520.5 L536.8 1519.9 L539.7 1519.3 L542.7 1518.8 L545.7 1518.3 L548.6 1517.8 L551.6 1517.4 L554.6 1516.9 L557.5 1516.5 L560.5 1516.1 L563.5 1515.7 L566.5 1515.3 L569.5 1514.9 L572.4 1514.5 L575.4 1514.1 L578.4 1513.7 L581.4 1513.3 L584.4 1512.9 L587.4 1512.6 L590.4 1512.3 L593.3 1512.0 L596.3 1511.8 L599.3 1511.5 L602.3 1511.3 L605.3 1511.0 L608.3 1510.8 L611.3 1510.6 L614.3 1510.3 L617.3 1510.1 L620.3 1509.9 L623.3 1509.7 L626.3 1509.5 L629.3 1509.4 L632.3 1509.2 L635.3 1509.0 L638.3 1508.8 L641.3 1508.7 L644.3 1508.5 L647.3 1508.4 L650.3 1508.2 L653.3 1508.1 L656.3 1508.0 L659.3 1507.8 L662.4 1507.7 L665.4 1507.6 L668.4 1507.5 L671.4 1507.4 L674.4 1507.3 L677.4 1507.2 L680.4 1507.1 L683.4 1507.0 L686.4 1506.9 L689.4 1506.8 L692.4 1506.7 L695.4 1506.6 L698.4 1506.5 L701.4 1506.4 L704.4 1506.3 L707.4 1506.3 L710.4 1506.2 L713.4 1506.1 L716.4 1506.0 L719.4 1505.9 L722.4 1505.8 L725.5 1505.7 L728.5 1505.6 L731.5 1505.5 L734.5 1505.4 L737.5 1505.3 L740.5 1505.1 L743.5 1505.0 L746.5 1504.9 L749.5 1504.7 L752.5 1504.6 L755.5 1504.5 L758.5 1504.3 L761.5 1504.2 L764.5 1504.1 L767.5 1503.9 L770.5 1503.8 L773.5 1503.7 L776.5 1503.5 L779.5 1503.4 L782.5 1503.3 L785.5 1503.2 L788.5 1503.1 L791.5 1503.0 L794.5 1502.9 L797.5 1502.9 L800.5 1502.8 L803.6 1502.7 L806.6 1502.6 L809.6 1502.5 L812.6 1502.5 L815.6 1502.4 L818.6 1502.3 L821.6 1502.2 L824.6 1502.2 L827.6 1502.1 L830.6 1502.0 L833.6 1501.9 L836.6 1501.9 L839.6 1501.8 L842.6 1501.7 L845.6 1501.7 L848.6 1501.6 L851.6 1501.6 L854.6 1501.5 L857.7 1501.4 L860.7 1501.4 L863.7 1501.3 L866.7 1501.3 L869.7 1501.2 L872.7 1501.2 L875.7 1501.2 L878.7 1501.1 L881.7 1501.1 L884.7 1501.1 L887.7 1501.1 L890.7 1501.0 L893.7 1501.0 L896.7 1501.0 L899.7 1501.0 L902.7 1501.0 L905.8 1501.0 L908.8 1501.0 L911.8 1501.0 L914.8 1501.0 L917.8 1501.0 L920.8 1501.0 L923.8 1501.0 L926.8 1501.0 L929.8 1501.0 L932.8 1501.0 L935.8 1501.0 L938.8 1500.9 L941.8 1500.9 L944.8 1500.9 L947.8 1500.9 L950.8 1500.9 L953.8 1500.9 L956.9 1500.9 L959.9 1500.9 L962.9 1500.9 L965.9 1500.9 L968.9 1500.9 L971.9 1500.9 L974.9 1500.9 L977.9 1500.9 L980.9 1500.9 L983.9 1500.9 L986.9 1500.9 L989.9 1500.9 L992.9 1500.9 L995.9 1500.9 L998.9 1500.9 L1001.9 1500.9 L1005.0 1500.9 L1008.0 1500.9 L1011.0 1500.9 L1014.0 1500.9 L1017.0 1500.9 L1020.0 1500.9 L1023.0 1500.9 L1026.0 1500.9 L1029.0 1500.9 L1032.0 1500.9 L1035.0 1500.9 L1038.0 1500.9 L1041.0 1500.9 L1044.0 1500.9 L1047.0 1500.9 L1050.0 1500.8 L1053.0 1500.8 L1056.1 1500.8 L1059.1 1500.8 L1062.1 1500.8 L1065.1 1500.8 L1068.1 1500.8 L1071.1 1500.8 L1074.1 1500.8 L1077.1 1500.8 L1080.1 1500.8 L1083.1 1500.8 L1086.1 1500.8 L1089.1 1500.8 L1092.1 1500.8 L1095.1 1500.8 L1098.1 1500.8 L1101.1 1500.8 L1104.2 1500.8 L1107.2 1500.8 L1110.2 1500.8 L1113.2 1500.8 L1116.2 1500.8 L1119.2 1500.8 L1122.2 1500.8 L1125.2 1500.8 L1128.2 1500.8 L1131.2 1500.8 L1134.2 1500.8 L1137.2 1500.8 L1140.2 1500.8 L1143.2 1500.8 L1146.2 1500.8 L1149.3 1500.8 L1152.3 1500.8 L1155.3 1500.8 L1158.3 1500.8 L1161.3 1500.8 L1164.3 1500.8 L1167.3 1500.8 L1170.3 1500.8 L1173.3 1500.8 L1176.3 1500.8 L1179.3 1500.8 L1182.3 1500.8 L1185.3 1500.8 L1188.3 1500.8 L1191.3 1500.8 L1194.3 1500.8 L1197.4 1500.8 L1200.4 1500.8 L1203.4 1500.8 L1206.4 1500.8 L1209.4 1500.8 L1212.4 1500.8 L1215.4 1500.8 L1218.4 1500.8" fill="none" stroke="#009900" stroke-width="7.9" stroke-linejoin="round"/>
<path d="M362.0 2113.0 L362.1 2110.0 L362.3 2107.0 L362.4 2104.0 L362.6 2101.0 L362.7 2098.0 L362.9 2095.0 L363.0 2092.0 L363.2 2089.0 L363.3 2086.0 L363.5 2083.0 L363.6 2080.0 L363.7 2077.0 L363.9 2074.0 L364.0 2071.0 L364.2 2068.0 L364.3 2065.0 L364.5 2062.0 L364.6 2059.0 L364.7 2056.0 L364.9 2053.0 L365.0 2050.0 L365.2 2047.0 L365.3 2044.0 L365.5 2041.0 L365.6 2038.0 L365.7 2035.0 L365.9 2032.0 L366.0 2029.0 L366.2 2026.0 L366.3 2023.0 L366.4 2020.0 L366.6 2017.0 L366.7 2014.0 L366.9 2011.0 L367.0 2008.0 L367.1 2005.0 L367.3 2002.0 L367.4 1999.0 L367.5 1996.0 L367.7 1993.0 L367.8 1990.0 L367.9 1987.0 L368.1 1984.0 L368.2 1981.0 L368.4 1978.0 L368.5 1975.0 L368.6 1972.0 L368.8 1969.0 L368.9 1966.0 L369.0 1963.0 L369.2 1960.0 L369.3 1957.0 L369.4 1954.0 L369.6 1951.0 L369.7 1948.0 L369.8 1945.0 L370.0 1942.0 L370.1 1939.0 L370.2 1936.0 L370.3 1933.0 L370.5 1930.0 L370.6 1927.0 L370.7 1924.0 L370.9 1921.0 L371.0 1918.0 L371.1 1915.0 L371.3 1912.0 L371.4 1909.0 L371.5 1906.0 L371.6 1903.0 L371.8 1900.0 L371.9 1897.0 L372.0 1894.0 L372.1 1891.0 L372.3 1888.0 L372.4 1885.0 L372.5 1882.0 L372.6 1878.9 L372.8 1875.9 L372.9 1872.9 L373.0 1869.9 L373.1 1866.9 L373.2 1863.9 L373.3 1860.9 L373.4 1857.9 L373.5 1854.9 L373.6 1851.8 L373.7 1848.8 L373.8 1845.8 L373.9 1842.8 L373.9 1839.8 L374.0 1836.7 L374.1 1833.7 L374.2 1830.7 L374.2 1827.7 L374.3 1824.6 L374.4 1821.6 L374.5 1818.6 L374.5 1815.5 L374.6 1812.5 L374.7 1809.5 L374.7 1806.4 L374.8 1803.4 L374.9 1800.4 L374.9 1797.3 L375.0 1794.3 L375.1 1791.3 L375.1 1788.2 L375.2 1785.2 L375.2 1782.2 L375.3 1779.2 L375.4 1776.1 L375.4 1773.1 L375.5 1770.1 L375.6 1767.0 L375.7 1764.0 L375.7 1761.0 L375.8 1758.0 L375.9 1754.9 L376.0 1751.9 L376.0 1748.9 L376.1 1745.9 L376.2 1742.9 L376.3 1739.8 L376.4 1736.8 L376.5 1733.8 L376.6 1730.8 L376.7 1727.8 L376.8 1724.8 L376.9 1721.8 L377.0 1718.8 L377.1 1715.8 L377.2 1712.8 L377.3 1709.8 L377.5 1706.8 L377.6 1703.8 L377.7 1700.8 L377.9 1697.8 L378.0 1694.8 L378.2 1691.9 L378.3 1688.9 L378.5 1685.9 L378.7 1682.9 L378.8 1680.0 L379.0 1677.0 L379.2 1674.1 L379.4 1671.1 L379.6 1668.2 L379.8 1665.2 L380.0 1662.3 L380.2 1659.3 L380.4 1656.4 L380.7 1653.5 L380.9 1650.5 L381.1 1647.6 L381.4 1644.7 L381.8 1641.8 L382.3 1638.9 L383.0 1636.0 L383.9 1633.2 L385.0 1630.4 L386.1 1627.6 L387.2 1624.8 L388.3 1622.0 L389.2 1619.1 L390.0 1616.2 L390.7 1613.3 L391.4 1610.4 L392.0 1607.4 L392.7 1604.5 L393.4 1601.6 L394.2 1598.7 L395.2 1595.9 L396.2 1593.1 L397.4 1590.3 L398.6 1587.6 L399.9 1584.8 L401.2 1582.1 L402.6 1579.5 L404.0 1576.8 L405.5 1574.2 L407.0 1571.6 L408.5 1569.0 L410.1 1566.5 L411.8 1564.0 L413.5 1561.5 L415.2 1559.0 L416.9 1556.6 L418.7 1554.1 L420.5 1551.7 L422.3 1549.3 L424.2 1546.9 L426.0 1544.6 L427.9 1542.3 L429.9 1540.0 L431.8 1537.7 L433.8 1535.4 L435.8 1533.2 L437.9 1531.0 L440.0 1528.8 L442.0 1526.7 L444.2 1524.5 L446.3 1522.4 L448.5 1520.3 L450.7 1518.3 L452.9 1516.2 L455.2 1514.3 L457.5 1512.4 L459.9 1510.6 L462.3 1508.8 L464.7 1507.1 L467.3 1505.4 L469.8 1503.8 L472.4 1502.3 L474.9 1500.7 L477.5 1499.1 L480.1 1497.5 L482.6 1495.9 L485.2 1494.3 L487.7 1492.7 L490.3 1491.2 L492.9 1489.6 L495.5 1488.1 L498.1 1486.6 L500.7 1485.1 L503.3 1483.7 L506.0 1482.3 L508.7 1481.0 L511.4 1479.7 L514.1 1478.5 L516.8 1477.3 L519.6 1476.1 L522.4 1475.0 L525.2 1473.9 L528.0 1472.8 L530.8 1471.7 L533.7 1470.7 L536.5 1469.7 L539.3 1468.8 L542.2 1467.9 L545.1 1467.0 L547.9 1466.1 L550.8 1465.2 L553.7 1464.4 L556.6 1463.6 L559.5 1462.8 L562.4 1462.1 L565.3 1461.3 L568.3 1460.6 L571.2 1459.9 L574.1 1459.3 L577.0 1458.6 L580.0 1457.9 L582.9 1457.3 L585.8 1456.7 L588.8 1456.1 L591.7 1455.5 L594.7 1455.0 L597.6 1454.4 L600.6 1453.9 L603.6 1453.4 L606.5 1452.9 L609.5 1452.5 L612.5 1452.0 L615.4 1451.6 L618.4 1451.2 L621.4 1450.8 L624.4 1450.4 L627.3 1450.0 L630.3 1449.6 L633.3 1449.2 L636.3 1448.8 L639.3 1448.5 L642.2 1448.1 L645.2 1447.7 L648.2 1447.4 L651.2 1447.0 L654.2 1446.6 L657.2 1446.3 L660.1 1445.9 L663.1 1445.6 L666.1 1445.2 L669.1 1444.8 L672.1 1444.5 L675.1 1444.1 L678.0 1443.8 L681.0 1443.4 L684.0 1443.1 L687.0 1442.8 L690.0 1442.5 L693.0 1442.2 L696.0 1441.9 L699.0 1441.6 L701.9 1441.3 L704.9 1441.1 L707.9 1440.8 L710.9 1440.6 L713.9 1440.4 L716.9 1440.1 L719.9 1439.9 L722.9 1439.7 L725.9 1439.5 L728.9 1439.3 L731.9 1439.1 L734.9 1439.0 L737.9 1438.8 L740.9 1438.6 L743.9 1438.5 L746.9 1438.3 L749.9 1438.1 L752.9 1438.0 L755.9 1437.8 L758.9 1437.7 L761.9 1437.5 L764.9 1437.4 L767.9 1437.3 L770.9 1437.1 L773.9 1437.0 L776.9 1436.9 L779.9 1436.8 L782.9 1436.6 L785.9 1436.5 L788.9 1436.4 L791.9 1436.3 L794.9 1436.2 L797.9 1436.1 L800.9 1436.0 L803.9 1435.9 L806.9 1435.8 L809.9 1435.7 L812.9 1435.6 L815.9 1435.5 L818.9 1435.4 L821.9 1435.3 L824.9 1435.2 L827.9 1435.1 L830.9 1435.0 L833.9 1434.9 L836.9 1434.8 L839.9 1434.7 L842.9 1434.6 L845.9 1434.5 L849.0 1434.5 L852.0 1434.4 L855.0 1434.3 L858.0 1434.2 L861.0 1434.2 L864.0 1434.1 L867.0 1434.1 L870.0 1434.0 L873.0 1434.0 L876.0 1433.9 L879.0 1433.9 L882.0 1433.8 L885.0 1433.8 L888.0 1433.8 L891.0 1433.7 L894.0 1433.7 L897.0 1433.7 L900.0 1433.6 L903.0 1433.6 L906.0 1433.6 L909.0 1433.6 L912.0 1433.5 L915.0 1433.5 L918.0 1433.5 L921.0 1433.5 L924.0 1433.4 L927.0 1433.4 L930.0 1433.4 L933.0 1433.4 L936.0 1433.3 L939.1 1433.3 L942.1 1433.3 L945.1 1433.3 L948.1 1433.3 L951.1 1433.2 L954.1 1433.2 L957.1 1433.2 L960.1 1433.2 L963.1 1433.2 L966.1 1433.2 L969.1 1433.2 L972.1 1433.2 L975.1 1433.1 L978.1 1433.1 L981.1 1433.1 L984.1 1433.1 L987.1 1433.1 L990.1 1433.1 L993.1 1433.1 L996.1 1433.1 L999.1 1433.1 L1002.1 1433.1 L1005.1 1433.1 L1008.1 1433.1 L1011.1 1433.1 L1014.1 1433.1 L1017.2 1433.1 L1020.2 1433.1 L1023.2 1433.1 L1026.2 1433.1 L1029.2 1433.1 L1032.2 1433.1 L1035.2 1433.1 L1038.2 1433.1 L1041.2 1433.1 L1044.2 1433.1 L1047.2 1433.1 L1050.2 1433.1 L1053.2 1433.1 L1056.2 1433.1 L1059.2 1433.1 L1062.2 1433.1 L1065.2 1433.1 L1068.2 1433.1 L1071.2 1433.1 L1074.2 1433.1 L1077.2 1433.1 L1080.2 1433.1 L1083.2 1433.1 L1086.2 1433.1 L1089.2 1433.1 L1092.2 1433.1 L1095.2 1433.1 L1098.3 1433.1 L1101.3 1433.1 L1104.3 1433.1 L1107.3 1433.1 L1110.3 1433.1 L1113.3 1433.1 L1116.3 1433.1 L1119.3 1433.1 L1122.3 1433.1 L1125.3 1433.1 L1128.3 1433.1 L1131.3 1433.1 L1134.3 1433.1 L1137.3 1433.1 L1140.3 1433.1 L1143.3 1433.1 L1146.3 1433.1 L1149.3 1433.1 L1152.3 1433.1 L1155.3 1433.1 L1158.3 1433.1 L1161.3 1433.1 L1164.3 1433.1 L1167.3 1433.1 L1170.3 1433.1 L1173.3 1433.2 L1176.3 1433.2 L1179.4 1433.2 L1182.4 1433.2 L1185.4 1433.2 L1188.4 1433.2 L1191.4 1433.2 L1194.4 1433.2 L1197.4 1433.2 L1200.4 1433.2 L1203.4 1433.2 L1206.4 1433.2 L1209.4 1433.2 L1212.4 1433.2 L1215.4 1433.2 L1218.4 1433.2" fill="none" stroke="#0044ff" stroke-width="7.9" stroke-linejoin="round"/>
<path d="M362.0 2113.0 L362.1 2110.0 L362.3 2107.0 L362.4 2104.0 L362.6 2101.0 L362.7 2098.0 L362.9 2095.0 L363.0 2092.0 L363.2 2089.0 L363.3 2086.0 L363.5 2083.0 L363.6 2080.0 L363.7 2077.0 L363.9 2074.0 L364.0 2071.0 L364.2 2068.0 L364.3 2065.0 L364.5 2062.0 L364.6 2059.0 L364.7 2056.0 L364.9 2053.0 L365.0 2050.0 L365.2 2047.0 L365.3 2044.0 L365.5 2041.0 L365.6 2038.0 L365.7 2035.0 L365.9 2032.0 L366.0 2029.0 L366.2 2026.0 L366.3 2023.0 L366.4 2020.0 L366.6 2017.0 L366.7 2014.0 L366.9 2011.0 L367.0 2008.0 L367.1 2005.0 L367.3 2002.0 L367.4 1999.0 L367.5 1996.0 L367.7 1993.0 L367.8 1990.0 L367.9 1987.0 L368.1 1984.0 L368.2 1981.0 L368.4 1978.0 L368.5 1975.0 L368.6 1972.0 L368.8 1969.0 L368.9 1966.0 L369.0 1963.0 L369.2 1960.0 L369.3 1957.0 L369.4 1954.0 L369.6 1951.0 L369.7 1948.0 L369.8 1945.0 L370.0 1942.0 L370.1 1939.0 L370.2 1936.0 L370.3 1933.0 L370.5 1930.0 L370.6 1927.0 L370.7 1924.0 L370.9 1921.0 L371.0 1918.0 L371.1 1915.0 L371.2 1912.0 L371.4 1909.0 L371.5 1906.0 L371.6 1903.0 L371.8 1900.0 L371.9 1897.0 L372.0 1894.0 L372.1 1891.0 L372.3 1888.0 L372.4 1885.0 L372.5 1882.0 L372.6 1879.0 L372.8 1876.0 L372.9 1873.0 L373.0 1870.0 L373.1 1867.0 L373.2 1864.0 L373.3 1861.0 L373.4 1858.0 L373.6 1855.0 L373.7 1852.0 L373.8 1849.0 L373.9 1846.0 L374.0 1843.0 L374.1 1839.9 L374.2 1836.9 L374.3 1833.9 L374.3 1830.9 L374.4 1827.9 L374.5 1824.9 L374.6 1821.9 L374.7 1818.9 L374.8 1815.9 L374.9 1812.9 L375.0 1809.9 L375.1 1806.9 L375.2 1803.9 L375.2 1800.9 L375.3 1797.9 L375.4 1794.9 L375.5 1791.9 L375.6 1788.9 L375.7 1785.9 L375.8 1782.9 L375.8 1779.9 L375.9 1776.9 L376.0 1773.8 L376.1 1770.8 L376.2 1767.8 L376.3 1764.8 L376.4 1761.8 L376.5 1758.8 L376.6 1755.8 L376.6 1752.8 L376.7 1749.8 L376.8 1746.8 L376.9 1743.8 L377.0 1740.8 L377.1 1737.8 L377.2 1734.8 L377.3 1731.8 L377.4 1728.8 L377.5 1725.8 L377.7 1722.8 L377.8 1719.8 L377.9 1716.8 L378.0 1713.8 L378.1 1710.8 L378.2 1707.8 L378.4 1704.8 L378.5 1701.8 L378.6 1698.8 L378.7 1695.8 L378.9 1692.8 L379.0 1689.8 L379.2 1686.8 L379.3 1683.8 L379.4 1680.8 L379.6 1677.8 L379.7 1674.8 L379.9 1671.8 L380.1 1668.8 L380.2 1665.8 L380.4 1662.8 L380.6 1659.8 L380.7 1656.8 L380.9 1653.9 L381.1 1650.9 L381.3 1647.9 L381.5 1644.9 L381.7 1641.9 L382.0 1638.9 L382.2 1635.9 L382.6 1632.9 L382.9 1629.9 L383.3 1627.0 L383.6 1624.0 L384.0 1621.0 L384.3 1618.0 L384.6 1615.0 L384.8 1612.0 L385.1 1609.0 L385.4 1606.0 L385.8 1603.0 L386.1 1600.1 L386.6 1597.1 L387.1 1594.2 L387.6 1591.2 L388.3 1588.3 L389.0 1585.4 L389.7 1582.5 L390.5 1579.5 L391.3 1576.6 L392.1 1573.7 L393.0 1570.9 L393.8 1568.0 L394.7 1565.1 L395.6 1562.2 L396.5 1559.4 L397.5 1556.5 L398.4 1553.7 L399.5 1550.8 L400.5 1548.0 L401.6 1545.2 L402.6 1542.4 L403.8 1539.6 L404.9 1536.9 L406.1 1534.1 L407.4 1531.4 L408.6 1528.7 L409.9 1525.9 L411.2 1523.2 L412.6 1520.5 L413.9 1517.9 L415.3 1515.2 L416.7 1512.5 L418.1 1509.9 L419.5 1507.2 L420.9 1504.6 L422.4 1502.0 L423.9 1499.4 L425.4 1496.8 L426.9 1494.2 L428.5 1491.6 L430.1 1489.1 L431.7 1486.5 L433.3 1484.0 L434.9 1481.4 L436.4 1478.9 L438.0 1476.3 L439.6 1473.8 L441.2 1471.2 L442.8 1468.7 L444.4 1466.1 L446.0 1463.6 L447.6 1461.1 L449.3 1458.6 L451.0 1456.1 L452.7 1453.6 L454.4 1451.2 L456.2 1448.7 L457.9 1446.3 L459.7 1443.9 L461.5 1441.5 L463.4 1439.1 L465.2 1436.7 L467.1 1434.4 L468.9 1432.0 L470.8 1429.7 L472.7 1427.3 L474.6 1425.0 L476.6 1422.7 L478.5 1420.4 L480.5 1418.1 L482.4 1415.9 L484.4 1413.6 L486.5 1411.4 L488.5 1409.2 L490.6 1407.1 L492.7 1405.0 L494.9 1402.9 L497.1 1400.8 L499.3 1398.8 L501.5 1396.8 L503.8 1394.8 L506.1 1392.9 L508.4 1390.9 L510.7 1389.0 L513.1 1387.2 L515.5 1385.4 L517.9 1383.6 L520.3 1381.8 L522.8 1380.1 L525.2 1378.4 L527.7 1376.7 L530.3 1375.0 L532.8 1373.4 L535.3 1371.8 L537.9 1370.2 L540.4 1368.7 L543.0 1367.1 L545.6 1365.6 L548.2 1364.1 L550.8 1362.6 L553.4 1361.1 L556.1 1359.7 L558.7 1358.3 L561.4 1356.8 L564.0 1355.5 L566.7 1354.1 L569.4 1352.7 L572.1 1351.4 L574.8 1350.2 L577.5 1348.9 L580.3 1347.7 L583.0 1346.5 L585.8 1345.3 L588.5 1344.0 L591.3 1342.8 L594.0 1341.5 L596.7 1340.3 L599.5 1339.1 L602.2 1337.9 L605.0 1336.9 L607.8 1335.9 L610.7 1334.9 L613.5 1334.0 L616.4 1333.1 L619.2 1332.2 L622.1 1331.4 L625.0 1330.5 L627.9 1329.7 L630.8 1328.9 L633.7 1328.2 L636.6 1327.4 L639.6 1326.6 L642.5 1325.9 L645.4 1325.1 L648.3 1324.4 L651.2 1323.6 L654.1 1322.8 L657.0 1322.1 L659.9 1321.3 L662.8 1320.5 L665.8 1319.8 L668.7 1319.0 L671.6 1318.3 L674.5 1317.6 L677.4 1316.9 L680.3 1316.2 L683.3 1315.6 L686.2 1315.0 L689.2 1314.4 L692.1 1313.8 L695.1 1313.2 L698.0 1312.7 L701.0 1312.2 L703.9 1311.7 L706.9 1311.2 L709.9 1310.7 L712.8 1310.3 L715.8 1309.8 L718.8 1309.4 L721.7 1308.9 L724.7 1308.5 L727.7 1308.1 L730.7 1307.7 L733.7 1307.4 L736.6 1307.0 L739.6 1306.7 L742.6 1306.4 L745.6 1306.1 L748.6 1305.8 L751.6 1305.5 L754.6 1305.3 L757.6 1305.1 L760.6 1304.8 L763.5 1304.6 L766.5 1304.4 L769.5 1304.2 L772.5 1304.0 L775.5 1303.8 L778.5 1303.7 L781.5 1303.5 L784.5 1303.3 L787.5 1303.1 L790.5 1302.9 L793.5 1302.8 L796.5 1302.6 L799.5 1302.4 L802.5 1302.2 L805.5 1302.1 L808.5 1301.9 L811.5 1301.7 L814.5 1301.5 L817.5 1301.4 L820.5 1301.2 L823.5 1301.0 L826.5 1300.8 L829.5 1300.7 L832.5 1300.5 L835.5 1300.4 L838.5 1300.2 L841.5 1300.1 L844.5 1299.9 L847.5 1299.8 L850.5 1299.7 L853.5 1299.5 L856.5 1299.4 L859.5 1299.3 L862.5 1299.2 L865.5 1299.1 L868.5 1299.1 L871.5 1299.0 L874.5 1298.9 L877.5 1298.8 L880.5 1298.7 L883.5 1298.6 L886.5 1298.6 L889.5 1298.5 L892.5 1298.4 L895.5 1298.4 L898.6 1298.3 L901.6 1298.2 L904.6 1298.2 L907.6 1298.1 L910.6 1298.1 L913.6 1298.0 L916.6 1298.0 L919.6 1297.9 L922.6 1297.9 L925.6 1297.9 L928.6 1297.8 L931.6 1297.8 L934.6 1297.8 L937.6 1297.7 L940.6 1297.7 L943.6 1297.7 L946.6 1297.6 L949.6 1297.6 L952.6 1297.6 L955.6 1297.6 L958.6 1297.5 L961.6 1297.5 L964.6 1297.5 L967.6 1297.5 L970.6 1297.5 L973.6 1297.4 L976.6 1297.4 L979.6 1297.4 L982.6 1297.4 L985.6 1297.4 L988.6 1297.4 L991.6 1297.3 L994.7 1297.3 L997.7 1297.3 L1000.7 1297.3 L1003.7 1297.3 L1006.7 1297.3 L1009.7 1297.3 L1012.7 1297.2 L1015.7 1297.2 L1018.7 1297.2 L1021.7 1297.2 L1024.7 1297.2 L1027.7 1297.2 L1030.7 1297.1 L1033.7 1297.1 L1036.7 1297.1 L1039.7 1297.1 L1042.7 1297.1 L1045.7 1297.1 L1048.7 1297.1 L1051.7 1297.0 L1054.7 1297.0 L1057.7 1297.0 L1060.7 1297.0 L1063.7 1297.0 L1066.7 1297.0 L1069.7 1297.0 L1072.7 1296.9 L1075.7 1296.9 L1078.7 1296.9 L1081.7 1296.9 L1084.8 1296.9 L1087.8 1296.9 L1090.8 1296.9 L1093.8 1296.9 L1096.8 1296.8 L1099.8 1296.8 L1102.8 1296.8 L1105.8 1296.8 L1108.8 1296.8 L1111.8 1296.8 L1114.8 1296.8 L1117.8 1296.8 L1120.8 1296.7 L1123.8 1296.7 L1126.8 1296.7 L1129.8 1296.7 L1132.8 1296.7 L1135.8 1296.7 L1138.8 1296.7 L1141.8 1296.7 L1144.8 1296.7 L1147.8 1296.7 L1150.8 1296.6 L1153.8 1296.6 L1156.8 1296.6 L1159.8 1296.6 L1162.8 1296.6 L1165.8 1296.6 L1168.8 1296.6 L1171.8 1296.6 L1174.9 1296.6 L1177.9 1296.6 L1180.9 1296.6 L1183.9 1296.6 L1186.9 1296.5 L1189.9 1296.5 L1192.9 1296.5 L1195.9 1296.5 L1198.9 1296.5 L1201.9 1296.5 L1204.9 1296.5 L1207.9 1296.5 L1210.9 1296.5 L1213.9 1296.5 L1216.9 1296.5 L1218.4 1296.5" fill="none" stroke="#000000" stroke-width="7.9" stroke-linejoin="round"/>
<rect x="1342.6" y="1601.8" width="724.4" height="403.2" fill="#fff" stroke="#000" stroke-width="5.5"/>
<text x="1603.9" y="1674.0" font-size="68.5" font-weight="normal" letter-spacing="-0.30">Mod</text>
<text x="1884.5" y="1674.0" font-size="68.5" font-weight="normal" letter-spacing="0.90">Exp</text>
<text x="1356.2" y="1748.5" font-size="68.5" font-weight="normal" letter-spacing="-3.02">GNT1</text>
<line x1="1624.0" y1="1728.8" x2="1746.5" y2="1728.8" stroke="#ff0000" stroke-width="8.5" stroke-linecap="butt"/>
<line x1="1919.0" y1="1728.8" x2="2043.0" y2="1728.8" stroke="#ff0000" stroke-width="8" stroke-linecap="round" stroke-dasharray="4.5 19.2"/>
<text x="1356.2" y="1824.1" font-size="68.5" font-weight="normal" letter-spacing="-0.43">GNT2</text>
<line x1="1624.0" y1="1804.4" x2="1746.5" y2="1804.4" stroke="#009900" stroke-width="8.5" stroke-linecap="butt"/>
<line x1="1919.0" y1="1804.4" x2="2043.0" y2="1804.4" stroke="#009900" stroke-width="8" stroke-linecap="round" stroke-dasharray="4.5 19.2"/>
<text x="1356.2" y="1899.7" font-size="68.5" font-weight="normal" letter-spacing="-0.66">GNT3</text>
<line x1="1624.0" y1="1880.0" x2="1746.5" y2="1880.0" stroke="#0044ff" stroke-width="8.5" stroke-linecap="butt"/>
<line x1="1919.0" y1="1880.0" x2="2043.0" y2="1880.0" stroke="#0044ff" stroke-width="8" stroke-linecap="round" stroke-dasharray="4.5 19.2"/>
<text x="1356.2" y="1975.3" font-size="68.5" font-weight="normal" letter-spacing="-0.89">GNT4</text>
<line x1="1624.0" y1="1955.6" x2="1746.5" y2="1955.6" stroke="#000000" stroke-width="8.5" stroke-linecap="butt"/>
<line x1="1919.0" y1="1955.6" x2="2043.0" y2="1955.6" stroke="#000000" stroke-width="8" stroke-linecap="round" stroke-dasharray="4.5 19.2"/>
<text x="1062.8" y="2306.7" font-size="69" font-weight="normal" letter-spacing="-0.24">True strain</text>
<text transform="translate(149.1,1989.5) rotate(-90)" x="-1.4" y="0" font-size="69" letter-spacing="-0.86">True stress (MPa)</text>
<text transform="matrix(0.8248 0 0 0.9780 21.48 1283.61)" font-size="100" font-weight="bold">(</text>
<text transform="matrix(1.0535 0 0 1.0190 57.85 1294.48)" font-size="100" font-weight="bold">b</text>
<text transform="matrix(0.8321 0 0 0.9780 129.89 1283.61)" font-size="100" font-weight="bold">)</text>
</g>
<g id="pc">
<line x1="816.9" y1="3262.5" x2="816.9" y2="3221.5" stroke="#000" stroke-width="5.2" stroke-linecap="butt"/>
<line x1="816.9" y1="2412.9" x2="816.9" y2="2453.9" stroke="#000" stroke-width="5.2" stroke-linecap="butt"/>
<line x1="1254.1" y1="3262.5" x2="1254.1" y2="3221.5" stroke="#000" stroke-width="5.2" stroke-linecap="butt"/>
<line x1="1254.1" y1="2412.9" x2="1254.1" y2="2453.9" stroke="#000" stroke-width="5.2" stroke-linecap="butt"/>
<line x1="1691.2" y1="3262.5" x2="1691.2" y2="3221.5" stroke="#000" stroke-width="5.2" stroke-linecap="butt"/>
<line x1="1691.2" y1="2412.9" x2="1691.2" y2="2453.9" stroke="#000" stroke-width="5.2" stroke-linecap="butt"/>
<line x1="379.8" y1="3120.9" x2="420.8" y2="3120.9" stroke="#000" stroke-width="5.2" stroke-linecap="butt"/>
<line x1="2132.6" y1="3120.9" x2="2087.3" y2="3120.9" stroke="#000" stroke-width="5.2" stroke-linecap="butt"/>
<line x1="379.8" y1="2979.3" x2="420.8" y2="2979.3" stroke="#000" stroke-width="5.2" stroke-linecap="butt"/>
<line x1="2132.6" y1="2979.3" x2="2087.3" y2="2979.3" stroke="#000" stroke-width="5.2" stroke-linecap="butt"/>
<line x1="379.8" y1="2837.7" x2="420.8" y2="2837.7" stroke="#000" stroke-width="5.2" stroke-linecap="butt"/>
<line x1="2132.6" y1="2837.7" x2="2087.3" y2="2837.7" stroke="#000" stroke-width="5.2" stroke-linecap="butt"/>
<line x1="379.8" y1="2696.1" x2="420.8" y2="2696.1" stroke="#000" stroke-width="5.2" stroke-linecap="butt"/>
<line x1="2132.6" y1="2696.1" x2="2087.3" y2="2696.1" stroke="#000" stroke-width="5.2" stroke-linecap="butt"/>
<line x1="379.8" y1="2554.5" x2="420.8" y2="2554.5" stroke="#000" stroke-width="5.2" stroke-linecap="butt"/>
<line x1="2132.6" y1="2554.5" x2="2087.3" y2="2554.5" stroke="#000" stroke-width="5.2" stroke-linecap="butt"/>
<rect x="379.8" y="2412.9" width="1748.5" height="849.6" fill="none" stroke="#000" stroke-width="5.5"/>
<text x="362.1" y="3335.0" font-size="58" letter-spacing="-0.50">0</text>
<text x="798.5" y="3335.0" font-size="58" letter-spacing="-0.50">1</text>
<text x="1236.5" y="3335.0" font-size="58" letter-spacing="-0.50">2</text>
<text x="1673.6" y="3335.0" font-size="58" letter-spacing="-0.50">3</text>
<text x="2111.0" y="3335.0" font-size="58" letter-spacing="-0.50">4</text>
<text x="261.3" y="3282.0" font-size="58" letter-spacing="-0.50">300</text>
<text x="261.3" y="3140.4" font-size="58" letter-spacing="-0.50">350</text>
<text x="261.3" y="2998.8" font-size="58" letter-spacing="-0.50">400</text>
<text x="261.3" y="2857.2" font-size="58" letter-spacing="-0.50">450</text>
<text x="261.3" y="2715.6" font-size="58" letter-spacing="-0.50">500</text>
<text x="261.3" y="2574.0" font-size="58" letter-spacing="-0.50">550</text>
<text x="261.3" y="2432.4" font-size="58" letter-spacing="-0.50">600</text>
<line x1="538.0" y1="2986.5" x2="588.6" y2="2986.5" stroke="#000" stroke-width="5.0" stroke-linecap="butt"/>
<line x1="563.3" y1="2961.2" x2="563.3" y2="3011.8" stroke="#000" stroke-width="5.0" stroke-linecap="butt"/>
<line x1="539.0" y1="2964.2" x2="587.6" y2="3008.8" stroke="#000" stroke-width="5.0" stroke-linecap="butt"/>
<line x1="539.0" y1="3008.8" x2="587.6" y2="2964.2" stroke="#000" stroke-width="5.0" stroke-linecap="butt"/>
<line x1="724.1" y1="2807.8" x2="774.7" y2="2807.8" stroke="#000" stroke-width="5.0" stroke-linecap="butt"/>
<line x1="749.4" y1="2782.5" x2="749.4" y2="2833.1" stroke="#000" stroke-width="5.0" stroke-linecap="butt"/>
<line x1="725.1" y1="2785.5" x2="773.7" y2="2830.1" stroke="#000" stroke-width="5.0" stroke-linecap="butt"/>
<line x1="725.1" y1="2830.1" x2="773.7" y2="2785.5" stroke="#000" stroke-width="5.0" stroke-linecap="butt"/>
<line x1="1096.2" y1="2768.3" x2="1146.8" y2="2768.3" stroke="#000" stroke-width="5.0" stroke-linecap="butt"/>
<line x1="1121.5" y1="2743.0" x2="1121.5" y2="2793.6" stroke="#000" stroke-width="5.0" stroke-linecap="butt"/>
<line x1="1097.2" y1="2746.0" x2="1145.8" y2="2790.6" stroke="#000" stroke-width="5.0" stroke-linecap="butt"/>
<line x1="1097.2" y1="2790.6" x2="1145.8" y2="2746.0" stroke="#000" stroke-width="5.0" stroke-linecap="butt"/>
<line x1="1840.5" y1="2680.8" x2="1891.1" y2="2680.8" stroke="#000" stroke-width="5.0" stroke-linecap="butt"/>
<line x1="1865.8" y1="2655.5" x2="1865.8" y2="2706.1" stroke="#000" stroke-width="5.0" stroke-linecap="butt"/>
<line x1="1841.5" y1="2658.5" x2="1890.1" y2="2703.1" stroke="#000" stroke-width="5.0" stroke-linecap="butt"/>
<line x1="1841.5" y1="2703.1" x2="1890.1" y2="2658.5" stroke="#000" stroke-width="5.0" stroke-linecap="butt"/>
<circle cx="564.0" cy="2981.0" r="23.0" fill="none" stroke="#ff0000" stroke-width="4.8"/>
<circle cx="750.0" cy="2914.5" r="23.0" fill="none" stroke="#ff0000" stroke-width="4.8"/>
<circle cx="1121.5" cy="2780.8" r="23.0" fill="none" stroke="#ff0000" stroke-width="4.8"/>
<circle cx="1866.8" cy="2515.2" r="23.0" fill="none" stroke="#ff0000" stroke-width="4.8"/>
<rect x="541.7" y="2957.6" width="46.0" height="46.0" fill="none" stroke="#0044ff" stroke-width="5"/>
<rect x="727.0" y="2797.0" width="46.0" height="46.0" fill="none" stroke="#0044ff" stroke-width="5"/>
<rect x="1099.4" y="2740.3" width="46.0" height="46.0" fill="none" stroke="#0044ff" stroke-width="5"/>
<rect x="1843.8" y="2644.0" width="46.0" height="46.0" fill="none" stroke="#0044ff" stroke-width="5"/>
<rect x="1279.4" y="2882" width="724.3" height="253.4" fill="#fff" stroke="#000" stroke-width="5"/>
<line x1="1342.5" y1="2936.1" x2="1391.7" y2="2936.1" stroke="#000" stroke-width="4.8" stroke-linecap="butt"/>
<line x1="1367.1" y1="2911.5" x2="1367.1" y2="2960.7" stroke="#000" stroke-width="4.8" stroke-linecap="butt"/>
<line x1="1343.5" y1="2914.4" x2="1390.7" y2="2957.8" stroke="#000" stroke-width="4.8" stroke-linecap="butt"/>
<line x1="1343.5" y1="2957.8" x2="1390.7" y2="2914.4" stroke="#000" stroke-width="4.8" stroke-linecap="butt"/>
<circle cx="1366.0" cy="3011.5" r="21.6" fill="none" stroke="#ff0000" stroke-width="4.8"/>
<rect x="1345.6" y="3065.7" width="43.0" height="43.0" fill="none" stroke="#0044ff" stroke-width="4.8"/>
<text x="1454.0" y="2956.0" font-size="66" font-weight="normal" letter-spacing="3.05">Exp</text>
<text x="1454.0" y="3029.5" font-size="66" font-weight="normal" letter-spacing="0.92">Modeling</text>
<text x="1454.1" y="3103.7" font-size="66" font-weight="normal" letter-spacing="0.66">Revised Modeling</text>
<text x="666.2" y="3477.5" font-size="69" font-weight="normal" letter-spacing="-0.48">Yield strength gradient (MPa/μm)</text>
<text transform="translate(149.2,3170.4) rotate(-90)" x="-5.5" y="0" font-size="69" letter-spacing="-0.69">Flow stress (MPa)</text>
<text transform="matrix(0.8248 0 0 0.9834 21.48 2435.89)" font-size="100" font-weight="bold">(</text>
<text transform="matrix(1.0379 0 0 1.0192 58.55 2446.98)" font-size="100" font-weight="bold">c</text>
<text transform="matrix(0.8429 0 0 0.9834 124.39 2435.89)" font-size="100" font-weight="bold">)</text>
</g>
</svg></body></html>
